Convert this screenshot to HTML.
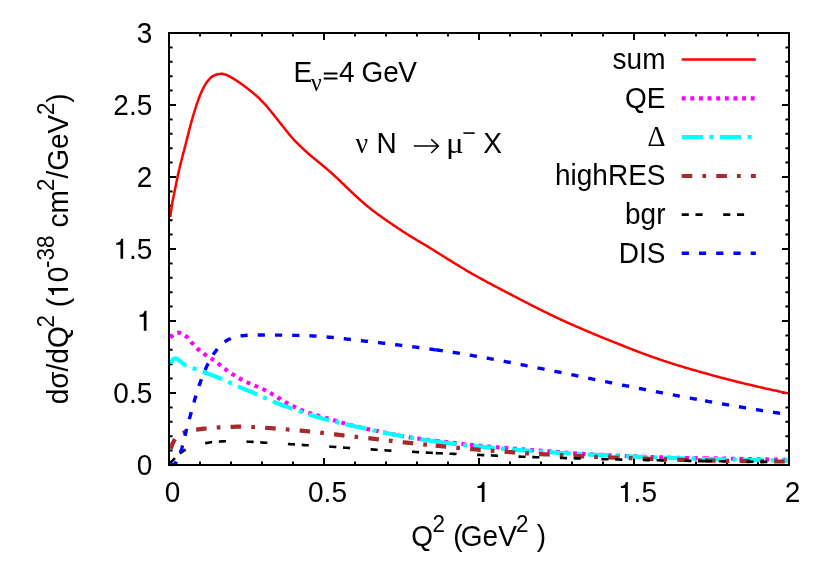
<!DOCTYPE html>
<html><head><meta charset="utf-8"><title>plot</title>
<style>
html,body{margin:0;padding:0;background:#fff;}
svg{display:block;will-change:transform;}
text{font-family:"Liberation Sans",sans-serif;font-size:28px;fill:#000;}
.sy{font-family:"Liberation Serif",serif;}
.s{font-size:22.4px;}
</style></head><body>
<svg width="830" height="581" viewBox="0 0 830 581">
<rect x="0" y="0" width="830" height="581" fill="#fff"/>
<path d="M200.0 465.0 v-3.6 M200.0 33.0 v3.6 M231.0 465.0 v-3.6 M231.0 33.0 v3.6 M262.0 465.0 v-3.6 M262.0 33.0 v3.6 M293.0 465.0 v-3.6 M293.0 33.0 v3.6 M324.0 465.0 v-7 M324.0 33.0 v7 M355.0 465.0 v-3.6 M355.0 33.0 v3.6 M386.0 465.0 v-3.6 M386.0 33.0 v3.6 M417.0 465.0 v-3.6 M417.0 33.0 v3.6 M448.0 465.0 v-3.6 M448.0 33.0 v3.6 M479.0 465.0 v-7 M479.0 33.0 v7 M510.0 465.0 v-3.6 M510.0 33.0 v3.6 M541.0 465.0 v-3.6 M541.0 33.0 v3.6 M572.0 465.0 v-3.6 M572.0 33.0 v3.6 M603.0 465.0 v-3.6 M603.0 33.0 v3.6 M634.0 465.0 v-7 M634.0 33.0 v7 M665.0 465.0 v-3.6 M665.0 33.0 v3.6 M696.0 465.0 v-3.6 M696.0 33.0 v3.6 M727.0 465.0 v-3.6 M727.0 33.0 v3.6 M758.0 465.0 v-3.6 M758.0 33.0 v3.6 M169.0 450.6 h3.6 M789.0 450.6 h-3.6 M169.0 436.2 h3.6 M789.0 436.2 h-3.6 M169.0 421.8 h3.6 M789.0 421.8 h-3.6 M169.0 407.4 h3.6 M789.0 407.4 h-3.6 M169.0 393.0 h7 M789.0 393.0 h-7 M169.0 378.6 h3.6 M789.0 378.6 h-3.6 M169.0 364.2 h3.6 M789.0 364.2 h-3.6 M169.0 349.8 h3.6 M789.0 349.8 h-3.6 M169.0 335.4 h3.6 M789.0 335.4 h-3.6 M169.0 321.0 h7 M789.0 321.0 h-7 M169.0 306.6 h3.6 M789.0 306.6 h-3.6 M169.0 292.2 h3.6 M789.0 292.2 h-3.6 M169.0 277.8 h3.6 M789.0 277.8 h-3.6 M169.0 263.4 h3.6 M789.0 263.4 h-3.6 M169.0 249.0 h7 M789.0 249.0 h-7 M169.0 234.6 h3.6 M789.0 234.6 h-3.6 M169.0 220.2 h3.6 M789.0 220.2 h-3.6 M169.0 205.8 h3.6 M789.0 205.8 h-3.6 M169.0 191.4 h3.6 M789.0 191.4 h-3.6 M169.0 177.0 h7 M789.0 177.0 h-7 M169.0 162.6 h3.6 M789.0 162.6 h-3.6 M169.0 148.2 h3.6 M789.0 148.2 h-3.6 M169.0 133.8 h3.6 M789.0 133.8 h-3.6 M169.0 119.4 h3.6 M789.0 119.4 h-3.6 M169.0 105.0 h7 M789.0 105.0 h-7 M169.0 90.6 h3.6 M789.0 90.6 h-3.6 M169.0 76.2 h3.6 M789.0 76.2 h-3.6 M169.0 61.8 h3.6 M789.0 61.8 h-3.6 M169.0 47.4 h3.6 M789.0 47.4 h-3.6" stroke="#000" stroke-width="2" fill="none"/>
<g clip-path="url(#c)">
<path d="M170.3 217.0 L170.4 216.0 L170.5 215.0 L170.7 214.0 L170.8 213.0 L170.9 212.0 L171.1 211.0 L171.2 210.0 L171.3 209.1 L171.5 208.1 L171.6 207.1 L171.8 206.1 L171.9 205.1 L172.1 204.1 L172.3 203.1 L172.4 202.1 L172.6 201.1 L172.8 200.2 L173.0 199.2 L173.2 198.2 L173.4 197.2 L173.6 196.2 L173.8 195.2 L174.0 194.3 L174.2 193.3 L174.4 192.3 L174.6 191.3 L174.8 190.3 L175.0 189.4 L175.2 188.4 L175.4 187.4 L175.6 186.4 L175.8 185.4 L176.0 184.5 L176.2 183.5 L176.4 182.5 L176.6 181.5 L176.8 180.5 L177.0 179.5 L177.2 178.6 L177.4 177.6 L177.6 176.6 L177.8 175.6 L178.0 174.6 L178.2 173.7 L178.5 172.7 L178.7 171.7 L178.9 170.7 L179.1 169.8 L179.4 168.8 L179.6 167.8 L179.8 166.8 L180.1 165.9 L180.3 164.9 L180.6 163.9 L180.8 162.9 L181.0 162.0 L181.3 161.0 L181.5 160.0 L181.8 159.1 L182.0 158.1 L182.3 157.1 L182.5 156.2 L182.8 155.2 L183.0 154.2 L183.3 153.2 L183.5 152.3 L183.8 151.3 L184.1 150.3 L184.3 149.4 L184.6 148.4 L184.8 147.4 L185.0 146.5 L185.3 145.5 L185.5 144.5 L185.8 143.5 L186.0 142.6 L186.3 141.6 L186.5 140.6 L186.8 139.7 L187.0 138.7 L187.3 137.7 L187.5 136.7 L187.7 135.8 L188.0 134.8 L188.2 133.8 L188.5 132.9 L188.7 131.9 L189.0 130.9 L189.2 129.9 L189.5 129.0 L189.7 128.0 L190.0 127.0 L190.2 126.1 L190.5 125.1 L190.8 124.1 L191.0 123.2 L191.3 122.2 L191.6 121.2 L191.8 120.3 L192.1 119.3 L192.4 118.3 L192.6 117.4 L192.9 116.4 L193.2 115.5 L193.5 114.5 L193.8 113.5 L194.1 112.6 L194.4 111.6 L194.7 110.7 L195.0 109.7 L195.3 108.8 L195.6 107.8 L195.9 106.9 L196.2 105.9 L196.5 104.9 L196.8 104.0 L197.2 103.0 L197.5 102.1 L197.8 101.1 L198.2 100.2 L198.5 99.3 L198.8 98.3 L199.2 97.4 L199.6 96.5 L199.9 95.5 L200.3 94.6 L200.7 93.7 L201.1 92.7 L201.5 91.8 L201.9 90.9 L202.3 90.0 L202.8 89.1 L203.2 88.2 L203.7 87.3 L204.1 86.4 L204.6 85.6 L205.2 84.7 L205.7 83.8 L206.3 83.0 L206.8 82.2 L207.4 81.4 L208.1 80.6 L208.7 79.9 L209.4 79.1 L210.1 78.4 L210.8 77.6 L211.6 77.0 L212.4 76.4 L213.2 75.9 L214.1 75.5 L215.0 75.1 L216.0 74.8 L217.0 74.5 L218.0 74.2 L219.0 74.0 L219.9 73.9 L220.9 73.8 L221.9 73.8 L222.9 74.0 L223.9 74.2 L224.9 74.4 L225.9 74.7 L226.8 75.1 L227.7 75.5 L228.6 76.0 L229.5 76.4 L230.4 76.9 L231.2 77.4 L232.1 77.9 L233.0 78.4 L233.8 78.9 L234.7 79.4 L235.5 80.0 L236.4 80.5 L237.2 81.1 L238.0 81.6 L238.9 82.2 L239.7 82.7 L240.5 83.3 L241.3 83.9 L242.2 84.5 L243.0 85.1 L243.8 85.7 L244.6 86.3 L245.4 86.9 L246.2 87.5 L247.0 88.1 L247.7 88.7 L248.5 89.3 L249.3 90.0 L250.1 90.6 L250.9 91.2 L251.7 91.8 L252.5 92.5 L253.2 93.1 L254.0 93.7 L254.8 94.4 L255.5 95.0 L256.3 95.7 L257.0 96.4 L257.8 97.0 L258.5 97.7 L259.2 98.4 L259.9 99.1 L260.6 99.8 L261.3 100.5 L262.0 101.3 L262.7 102.0 L263.4 102.7 L264.1 103.4 L264.8 104.2 L265.5 104.9 L266.1 105.7 L266.8 106.4 L267.5 107.2 L268.1 107.9 L268.8 108.7 L269.4 109.5 L270.0 110.2 L270.7 111.0 L271.3 111.8 L271.9 112.6 L272.6 113.4 L273.2 114.1 L273.8 114.9 L274.4 115.7 L275.0 116.5 L275.7 117.3 L276.3 118.1 L276.9 118.9 L277.5 119.6 L278.2 120.4 L278.8 121.2 L279.4 122.0 L280.0 122.8 L280.6 123.6 L281.3 124.4 L281.9 125.1 L282.5 125.9 L283.1 126.7 L283.8 127.5 L284.4 128.3 L285.0 129.1 L285.6 129.8 L286.2 130.6 L286.9 131.4 L287.5 132.2 L288.1 133.0 L288.7 133.8 L289.4 134.5 L290.0 135.3 L290.7 136.1 L291.3 136.8 L292.0 137.6 L292.7 138.3 L293.3 139.1 L294.0 139.8 L294.7 140.6 L295.4 141.3 L296.1 142.0 L296.8 142.7 L297.5 143.4 L298.2 144.1 L298.9 144.8 L299.6 145.5 L300.3 146.2 L301.1 146.9 L301.8 147.6 L302.5 148.3 L303.3 149.0 L304.0 149.6 L304.7 150.3 L305.5 151.0 L306.2 151.7 L307.0 152.3 L307.7 153.0 L308.5 153.7 L309.2 154.3 L310.0 155.0 L310.7 155.7 L311.5 156.3 L312.2 157.0 L313.0 157.6 L313.8 158.2 L314.6 158.9 L315.4 159.5 L316.1 160.1 L316.9 160.7 L317.7 161.4 L318.5 162.0 L319.3 162.6 L320.0 163.3 L320.8 163.9 L321.6 164.5 L322.3 165.2 L323.1 165.8 L323.9 166.5 L324.6 167.1 L325.4 167.8 L326.2 168.4 L326.9 169.1 L327.7 169.7 L328.5 170.4 L329.2 171.0 L330.0 171.7 L330.7 172.3 L331.5 173.0 L332.2 173.7 L333.0 174.3 L333.7 175.0 L334.4 175.7 L335.2 176.4 L335.9 177.1 L336.6 177.7 L337.4 178.4 L338.1 179.1 L338.8 179.8 L339.6 180.5 L340.3 181.2 L341.0 181.9 L341.7 182.6 L342.5 183.3 L343.2 184.0 L343.9 184.7 L344.6 185.4 L345.3 186.1 L346.0 186.8 L346.8 187.5 L347.5 188.1 L348.2 188.8 L348.9 189.5 L349.6 190.2 L350.4 190.9 L351.1 191.6 L351.8 192.3 L352.6 193.0 L353.3 193.7 L354.0 194.4 L354.8 195.0 L355.5 195.7 L356.2 196.4 L357.0 197.1 L357.7 197.7 L358.5 198.4 L359.2 199.1 L359.9 199.8 L360.7 200.4 L361.4 201.1 L362.2 201.7 L363.0 202.4 L363.7 203.1 L364.5 203.7 L365.2 204.4 L366.0 205.0 L366.8 205.7 L367.5 206.3 L368.3 206.9 L369.1 207.6 L369.9 208.2 L370.6 208.8 L371.4 209.5 L372.2 210.1 L373.0 210.7 L373.8 211.3 L374.6 211.9 L375.4 212.5 L376.2 213.1 L377.0 213.7 L377.8 214.3 L378.6 214.9 L379.5 215.4 L380.3 216.0 L381.1 216.6 L381.9 217.2 L382.7 217.8 L383.5 218.3 L384.4 218.9 L385.2 219.5 L386.0 220.1 L386.8 220.6 L387.6 221.2 L388.5 221.8 L389.3 222.3 L390.1 222.9 L391.0 223.5 L391.8 224.0 L392.6 224.6 L393.4 225.1 L394.3 225.7 L395.1 226.3 L395.9 226.8 L396.8 227.4 L397.6 227.9 L398.4 228.5 L399.3 229.0 L400.1 229.6 L400.9 230.2 L401.8 230.7 L402.6 231.3 L403.5 231.8 L404.3 232.3 L405.1 232.9 L406.0 233.4 L406.8 234.0 L407.7 234.5 L408.5 235.0 L409.4 235.6 L410.2 236.1 L411.1 236.6 L411.9 237.1 L412.8 237.7 L413.6 238.2 L414.5 238.7 L415.4 239.2 L416.2 239.7 L417.1 240.3 L417.9 240.8 L418.8 241.3 L419.7 241.8 L420.5 242.3 L421.4 242.8 L422.3 243.3 L423.1 243.8 L424.0 244.3 L424.9 244.8 L425.7 245.3 L426.6 245.9 L427.4 246.4 L428.3 246.9 L429.1 247.4 L430.0 247.9 L430.8 248.5 L431.7 249.0 L432.5 249.5 L433.4 250.0 L434.2 250.6 L435.1 251.1 L435.9 251.6 L436.8 252.2 L437.6 252.7 L438.5 253.2 L439.3 253.8 L440.2 254.3 L441.0 254.8 L441.9 255.4 L442.7 255.9 L443.6 256.4 L444.4 257.0 L445.3 257.5 L446.1 258.0 L447.0 258.6 L447.8 259.1 L448.7 259.6 L449.5 260.2 L450.4 260.7 L451.2 261.2 L452.1 261.7 L452.9 262.3 L453.8 262.8 L454.6 263.3 L455.5 263.8 L456.3 264.4 L457.2 264.9 L458.1 265.4 L458.9 265.9 L459.8 266.5 L460.6 267.0 L461.5 267.5 L462.3 268.0 L463.2 268.5 L464.1 269.0 L464.9 269.5 L465.8 270.1 L466.6 270.6 L467.5 271.1 L468.4 271.6 L469.2 272.1 L470.1 272.6 L471.0 273.1 L471.8 273.6 L472.7 274.1 L473.6 274.6 L474.5 275.1 L475.3 275.5 L476.2 276.0 L477.1 276.5 L478.0 277.0 L478.8 277.5 L479.7 278.0 L480.6 278.5 L481.5 278.9 L482.3 279.4 L483.2 279.9 L484.1 280.4 L485.0 280.9 L485.9 281.3 L486.7 281.8 L487.6 282.3 L488.5 282.8 L489.4 283.2 L490.3 283.7 L491.2 284.2 L492.0 284.7 L492.9 285.1 L493.8 285.6 L494.7 286.1 L495.6 286.5 L496.5 287.0 L497.4 287.5 L498.2 287.9 L499.1 288.4 L500.0 288.9 L500.9 289.3 L501.8 289.8 L502.7 290.3 L503.6 290.7 L504.5 291.2 L505.3 291.6 L506.2 292.1 L507.1 292.6 L508.0 293.0 L508.9 293.5 L509.8 294.0 L510.7 294.4 L511.6 294.9 L512.4 295.4 L513.3 295.8 L514.2 296.3 L515.1 296.7 L516.0 297.2 L516.9 297.7 L517.8 298.1 L518.7 298.6 L519.6 299.1 L520.4 299.5 L521.3 300.0 L522.2 300.4 L523.1 300.9 L524.0 301.4 L524.9 301.8 L525.8 302.3 L526.7 302.7 L527.6 303.2 L528.5 303.6 L529.4 304.1 L530.2 304.6 L531.1 305.0 L532.0 305.5 L532.9 305.9 L533.8 306.4 L534.7 306.8 L535.6 307.3 L536.5 307.7 L537.4 308.2 L538.3 308.6 L539.2 309.1 L540.1 309.5 L541.0 310.0 L541.9 310.4 L542.8 310.9 L543.7 311.3 L544.6 311.8 L545.5 312.2 L546.4 312.6 L547.3 313.1 L548.2 313.5 L549.1 314.0 L550.0 314.4 L550.9 314.8 L551.8 315.3 L552.7 315.7 L553.6 316.1 L554.5 316.6 L555.4 317.0 L556.3 317.4 L557.2 317.9 L558.1 318.3 L559.0 318.7 L559.9 319.1 L560.8 319.6 L561.7 320.0 L562.6 320.4 L563.6 320.8 L564.5 321.2 L565.4 321.6 L566.3 322.1 L567.2 322.5 L568.1 322.9 L569.0 323.3 L569.9 323.7 L570.9 324.1 L571.8 324.5 L572.7 324.9 L573.6 325.3 L574.5 325.7 L575.4 326.1 L576.4 326.5 L577.3 326.9 L578.2 327.3 L579.1 327.7 L580.0 328.1 L581.0 328.5 L581.9 328.9 L582.8 329.3 L583.7 329.7 L584.6 330.1 L585.6 330.5 L586.5 330.9 L587.4 331.3 L588.3 331.7 L589.3 332.0 L590.2 332.4 L591.1 332.8 L592.0 333.2 L593.0 333.6 L593.9 334.0 L594.8 334.4 L595.7 334.8 L596.7 335.1 L597.6 335.5 L598.5 335.9 L599.4 336.3 L600.4 336.7 L601.3 337.0 L602.2 337.4 L603.1 337.8 L604.1 338.2 L605.0 338.6 L605.9 338.9 L606.9 339.3 L607.8 339.7 L608.7 340.1 L609.6 340.4 L610.6 340.8 L611.5 341.2 L612.4 341.6 L613.4 341.9 L614.3 342.3 L615.2 342.7 L616.1 343.0 L617.1 343.4 L618.0 343.8 L618.9 344.1 L619.9 344.5 L620.8 344.9 L621.7 345.3 L622.7 345.6 L623.6 346.0 L624.5 346.4 L625.5 346.7 L626.4 347.1 L627.3 347.5 L628.3 347.8 L629.2 348.2 L630.1 348.6 L631.1 348.9 L632.0 349.3 L632.9 349.7 L633.9 350.0 L634.8 350.4 L635.7 350.8 L636.7 351.1 L637.6 351.5 L638.5 351.8 L639.5 352.2 L640.4 352.5 L641.3 352.9 L642.3 353.2 L643.2 353.6 L644.2 353.9 L645.1 354.3 L646.0 354.6 L647.0 355.0 L647.9 355.3 L648.9 355.6 L649.8 356.0 L650.8 356.3 L651.7 356.7 L652.6 357.0 L653.6 357.3 L654.5 357.6 L655.5 358.0 L656.4 358.3 L657.4 358.6 L658.3 359.0 L659.3 359.3 L660.2 359.6 L661.2 359.9 L662.1 360.2 L663.1 360.6 L664.0 360.9 L665.0 361.2 L665.9 361.5 L666.9 361.8 L667.8 362.1 L668.8 362.4 L669.7 362.8 L670.7 363.1 L671.6 363.4 L672.6 363.7 L673.5 364.0 L674.5 364.3 L675.5 364.6 L676.4 364.9 L677.4 365.2 L678.3 365.5 L679.3 365.8 L680.2 366.0 L681.2 366.3 L682.2 366.6 L683.1 366.9 L684.1 367.2 L685.0 367.5 L686.0 367.8 L687.0 368.1 L687.9 368.3 L688.9 368.6 L689.8 368.9 L690.8 369.2 L691.8 369.5 L692.7 369.7 L693.7 370.0 L694.7 370.3 L695.6 370.6 L696.6 370.8 L697.5 371.1 L698.5 371.4 L699.5 371.7 L700.4 371.9 L701.4 372.2 L702.4 372.5 L703.3 372.7 L704.3 373.0 L705.3 373.3 L706.2 373.6 L707.2 373.8 L708.2 374.1 L709.1 374.4 L710.1 374.6 L711.1 374.9 L712.0 375.2 L713.0 375.4 L714.0 375.7 L714.9 375.9 L715.9 376.2 L716.9 376.5 L717.8 376.7 L718.8 377.0 L719.8 377.3 L720.7 377.5 L721.7 377.8 L722.7 378.0 L723.6 378.3 L724.6 378.5 L725.6 378.8 L726.5 379.0 L727.5 379.3 L728.5 379.5 L729.4 379.8 L730.4 380.0 L731.4 380.3 L732.4 380.5 L733.3 380.8 L734.3 381.0 L735.3 381.3 L736.2 381.5 L737.2 381.7 L738.2 382.0 L739.2 382.2 L740.1 382.5 L741.1 382.7 L742.1 382.9 L743.1 383.2 L744.0 383.4 L745.0 383.7 L746.0 383.9 L746.9 384.1 L747.9 384.4 L748.9 384.6 L749.9 384.8 L750.8 385.1 L751.8 385.3 L752.8 385.5 L753.8 385.8 L754.7 386.0 L755.7 386.2 L756.7 386.4 L757.7 386.7 L758.6 386.9 L759.6 387.1 L760.6 387.4 L761.6 387.6 L762.6 387.8 L763.5 388.0 L764.5 388.2 L765.5 388.5 L766.5 388.7 L767.4 388.9 L768.4 389.1 L769.4 389.3 L770.4 389.5 L771.4 389.8 L772.3 390.0 L773.3 390.2 L774.3 390.4 L775.3 390.6 L776.3 390.8 L777.2 391.0 L778.2 391.2 L779.2 391.4 L780.2 391.6 L781.2 391.9 L782.1 392.1 L783.1 392.3 L784.1 392.5 L785.1 392.7 L786.1 392.9 L787.0 393.1 L788.0 393.3 L789.0 393.5" fill="none" stroke="#ff0000" stroke-width="2.5" stroke-linejoin="round" stroke-linecap="butt"/>
<path d="M170.2 337.6 L170.9 336.9 L171.6 336.2 L172.4 335.5 L173.1 334.8 L173.9 334.1 L174.7 333.6 L175.6 333.3 L176.6 333.0 L177.6 332.8 L178.6 332.7 L179.6 332.8 L180.6 333.1 L181.5 333.5 L182.4 334.0 L183.3 334.4 L184.2 334.9 L185.0 335.5 L185.8 336.1 L186.6 336.7 L187.3 337.4 L188.0 338.1 L188.6 338.9 L189.3 339.6 L189.9 340.4 L190.6 341.2 L191.2 342.0 L191.9 342.8 L192.6 343.5 L193.2 344.2 L193.9 345.0 L194.6 345.7 L195.3 346.4 L196.0 347.2 L196.7 347.9 L197.4 348.6 L198.1 349.3 L198.9 349.9 L199.7 350.6 L200.4 351.2 L201.2 351.8 L202.0 352.4 L202.8 353.0 L203.6 353.6 L204.5 354.2 L205.3 354.8 L206.1 355.3 L206.9 355.9 L207.8 356.4 L208.6 357.0 L209.5 357.5 L210.3 358.0 L211.2 358.6 L212.0 359.1 L212.8 359.7 L213.6 360.3 L214.5 360.9 L215.3 361.5 L216.1 362.1 L216.9 362.7 L217.7 363.3 L218.5 363.9 L219.3 364.5 L220.1 365.1 L220.9 365.7 L221.6 366.3 L222.4 367.0 L223.2 367.6 L224.0 368.2 L224.8 368.8 L225.6 369.4 L226.4 370.0 L227.2 370.6 L228.0 371.2 L228.8 371.7 L229.7 372.3 L230.5 372.9 L231.4 373.4 L232.2 374.0 L233.0 374.5 L233.9 375.0 L234.7 375.6 L235.6 376.1 L236.4 376.6 L237.3 377.1 L238.2 377.6 L239.0 378.1 L239.9 378.6 L240.8 379.1 L241.7 379.6 L242.6 380.1 L243.4 380.5 L244.3 381.0 L245.2 381.4 L246.1 381.9 L247.0 382.3 L247.9 382.7 L248.9 383.1 L249.8 383.5 L250.7 383.9 L251.6 384.3 L252.5 384.7 L253.5 385.1 L254.4 385.5 L255.3 385.9 L256.2 386.3 L257.2 386.7 L258.1 387.1 L259.0 387.5 L259.9 387.8 L260.9 388.2 L261.8 388.6 L262.7 389.0 L263.6 389.5 L264.5 389.9 L265.4 390.3 L266.3 390.8 L267.2 391.3 L268.1 391.7 L268.9 392.2 L269.8 392.7 L270.7 393.2 L271.6 393.7 L272.4 394.2 L273.3 394.7 L274.1 395.2 L275.0 395.8 L275.8 396.3 L276.7 396.8 L277.5 397.4 L278.4 397.9 L279.2 398.4 L280.1 398.9 L280.9 399.5 L281.8 400.0 L282.6 400.5 L283.5 401.1 L284.4 401.6 L285.2 402.1 L286.1 402.6 L287.0 403.1 L287.8 403.6 L288.7 404.0 L289.6 404.5 L290.5 405.0 L291.4 405.4 L292.3 405.9 L293.2 406.3 L294.1 406.8 L295.0 407.2 L295.9 407.6 L296.8 408.1 L297.7 408.5 L298.6 408.9 L299.5 409.3 L300.5 409.7 L301.4 410.1 L302.3 410.5 L303.2 410.8 L304.2 411.2 L305.1 411.6 L306.1 411.9 L307.0 412.2 L307.9 412.6 L308.9 412.9 L309.8 413.2 L310.8 413.5 L311.7 413.8 L312.7 414.1 L313.7 414.4 L314.6 414.7 L315.6 415.0 L316.5 415.3 L317.5 415.5 L318.5 415.8 L319.4 416.1 L320.4 416.4 L321.4 416.6 L322.3 416.9 L323.3 417.2 L324.3 417.4 L325.2 417.7 L326.2 418.0 L327.2 418.3 L328.1 418.6 L329.1 418.8 L330.0 419.1 L331.0 419.4 L332.0 419.7 L332.9 420.0 L333.9 420.3 L334.8 420.5 L335.8 420.8 L336.8 421.1 L337.7 421.4 L338.7 421.7 L339.7 421.9 L340.6 422.2 L341.6 422.5 L342.5 422.8 L343.5 423.1 L344.5 423.4 L345.4 423.7 L346.4 423.9 L347.4 424.2 L348.3 424.5 L349.3 424.7 L350.3 425.0 L351.2 425.2 L352.2 425.5 L353.2 425.7 L354.1 426.0 L355.1 426.2 L356.1 426.4 L357.1 426.7 L358.0 426.9 L359.0 427.1 L360.0 427.3 L361.0 427.6 L362.0 427.8 L362.9 428.0 L363.9 428.2 L364.9 428.4 L365.9 428.6 L366.8 428.9 L367.8 429.1 L368.8 429.3 L369.8 429.5 L370.8 429.7 L371.7 429.9 L372.7 430.1 L373.7 430.3 L374.7 430.5 L375.7 430.7 L376.6 430.9 L377.6 431.1 L378.6 431.3 L379.6 431.6 L380.6 431.8 L381.6 432.0 L382.5 432.2 L383.5 432.4 L384.5 432.6 L385.5 432.8 L386.5 433.0 L387.4 433.2 L388.4 433.4 L389.4 433.6 L390.4 433.8 L391.4 434.0 L392.4 434.2 L393.3 434.4 L394.3 434.6 L395.3 434.8 L396.3 434.9 L397.3 435.1 L398.3 435.3 L399.2 435.5 L400.2 435.7 L401.2 435.9 L402.2 436.1 L403.2 436.2 L404.2 436.4 L405.2 436.6 L406.1 436.8 L407.1 436.9 L408.1 437.1 L409.1 437.3 L410.1 437.4 L411.1 437.6 L412.1 437.8 L413.1 437.9 L414.1 438.1 L415.0 438.2 L416.0 438.4 L417.0 438.5 L418.0 438.6 L419.0 438.8 L420.0 438.9 L421.0 439.1 L422.0 439.2 L423.0 439.3 L424.0 439.4 L425.0 439.6 L426.0 439.7 L427.0 439.8 L428.0 439.9 L429.0 440.0 L430.0 440.2 L430.9 440.3 L431.9 440.4 L432.9 440.5 L433.9 440.6 L434.9 440.7 L435.7 440.8" fill="none" stroke="#ff00ff" stroke-width="4.1" stroke-linejoin="round" stroke-linecap="butt" stroke-dasharray="3.9 4.73"/>
<path d="M435.7 440.8 L435.9 440.9 L436.9 441.0 L437.9 441.1 L438.9 441.2 L439.9 441.3 L440.9 441.4 L441.9 441.5 L442.9 441.7 L443.9 441.8 L444.9 441.9 L445.9 442.0 L446.9 442.1 L447.9 442.2 L448.9 442.4 L449.9 442.5 L450.9 442.6 L451.8 442.7 L452.8 442.8 L453.8 443.0 L454.8 443.1 L455.8 443.2 L456.8 443.3 L457.8 443.4 L458.8 443.6 L459.8 443.7 L460.8 443.8 L461.8 443.9 L462.8 444.0 L463.8 444.1 L464.8 444.2 L465.8 444.3 L466.8 444.4 L467.8 444.6 L468.8 444.7 L469.8 444.8 L470.8 444.9 L471.8 445.0 L472.8 445.1 L473.8 445.2 L474.8 445.3 L475.8 445.4 L476.8 445.5 L477.8 445.5 L478.8 445.6 L479.7 445.7 L480.7 445.8 L481.7 445.9 L482.7 446.0 L483.7 446.1 L484.7 446.2 L485.7 446.3 L486.7 446.4 L487.7 446.5 L488.7 446.6 L489.7 446.6 L490.7 446.7 L491.7 446.8 L492.7 446.9 L493.7 447.0 L494.7 447.1 L495.7 447.2 L496.7 447.3 L497.7 447.3 L498.7 447.4 L499.7 447.5 L500.7 447.6 L501.7 447.7 L502.7 447.8 L503.7 447.9 L504.7 447.9 L505.7 448.0 L506.7 448.1 L507.7 448.2 L508.7 448.3 L509.7 448.4 L510.7 448.4 L511.7 448.5 L512.7 448.6 L513.7 448.7 L514.7 448.8 L515.7 448.9 L516.7 448.9 L517.7 449.0 L518.7 449.1 L519.7 449.2 L520.7 449.2 L521.7 449.3 L522.7 449.4 L523.7 449.5 L524.7 449.6 L525.7 449.6 L526.7 449.7 L527.7 449.8 L528.7 449.9 L529.7 449.9 L530.7 450.0 L531.7 450.1 L532.7 450.1 L533.7 450.2 L534.7 450.3 L535.7 450.4 L536.7 450.4 L537.7 450.5 L538.7 450.6 L539.7 450.6 L540.7 450.7 L541.7 450.8 L542.7 450.8 L543.7 450.9 L544.7 451.0 L545.7 451.1 L546.7 451.1 L547.7 451.2 L548.7 451.3 L549.7 451.4 L550.7 451.4 L551.7 451.5 L552.7 451.6 L553.7 451.7 L554.7 451.7 L555.7 451.8 L556.7 451.9 L557.7 452.0 L558.7 452.1 L559.7 452.1 L560.7 452.2 L561.7 452.3 L562.7 452.4 L563.7 452.5 L564.7 452.6 L565.7 452.6 L566.7 452.7 L567.7 452.8 L568.7 452.9 L569.7 453.0 L570.7 453.1 L571.7 453.1 L572.7 453.2 L573.7 453.3 L574.7 453.4 L575.6 453.4 L576.6 453.5 L577.6 453.6 L578.6 453.6 L579.6 453.7 L580.6 453.8 L581.6 453.8 L582.6 453.9 L583.7 454.0 L584.7 454.0 L585.7 454.1 L586.7 454.1 L587.7 454.2 L588.7 454.2 L589.7 454.3 L590.7 454.3 L591.7 454.4 L592.7 454.4 L593.7 454.5 L594.7 454.5 L595.7 454.6 L596.7 454.6 L597.7 454.7 L598.7 454.7 L599.7 454.8 L600.7 454.8 L601.7 454.9 L602.7 454.9 L603.7 455.0 L604.7 455.0 L605.7 455.0 L606.7 455.1 L607.7 455.1 L608.7 455.2 L609.7 455.2 L610.7 455.3 L611.7 455.3 L612.7 455.4 L613.7 455.4 L614.7 455.5 L615.7 455.5 L616.7 455.6 L617.7 455.6 L618.7 455.6 L619.7 455.7 L620.7 455.7 L621.7 455.8 L622.7 455.8 L623.7 455.9 L624.7 455.9 L625.7 456.0 L626.7 456.0 L627.7 456.0 L628.7 456.1 L629.7 456.1 L630.7 456.2 L631.7 456.2 L632.7 456.2 L633.7 456.3 L634.7 456.3 L635.7 456.4 L636.7 456.4 L637.7 456.5 L638.7 456.5 L639.7 456.5 L640.7 456.6 L641.7 456.6 L642.7 456.7 L643.7 456.7 L644.7 456.7 L645.7 456.8 L646.7 456.8 L647.7 456.8 L648.7 456.9 L649.7 456.9 L650.7 457.0 L651.7 457.0 L652.7 457.0 L653.7 457.1 L654.7 457.1 L655.7 457.1 L656.7 457.2 L657.7 457.2 L658.7 457.3 L659.7 457.3 L660.7 457.3 L661.7 457.4 L662.7 457.4 L663.8 457.4 L664.8 457.5 L665.8 457.5 L666.8 457.6 L667.8 457.6 L668.8 457.6 L669.8 457.7 L670.8 457.7 L671.8 457.7 L672.8 457.8 L673.8 457.8 L674.8 457.8 L675.8 457.9 L676.8 457.9 L677.8 457.9 L678.8 457.9 L679.8 458.0 L680.8 458.0 L681.8 458.0 L682.8 458.0 L683.8 458.0 L684.8 458.1 L685.8 458.1 L686.8 458.1 L687.8 458.1 L688.8 458.1 L689.8 458.1 L690.8 458.1 L691.8 458.1 L692.8 458.1 L693.8 458.1 L694.8 458.1 L695.8 458.1 L696.8 458.1 L697.8 458.1 L698.8 458.2 L699.8 458.2 L700.8 458.2 L701.8 458.2 L702.8 458.2 L703.8 458.2 L704.8 458.2 L705.0 458.2" fill="none" stroke="#ff00ff" stroke-width="4.1" stroke-linejoin="round" stroke-linecap="butt" stroke-dasharray="3.9 4.73"/>
<path d="M705.0 458.2 L705.8 458.2 L706.8 458.2 L707.8 458.2 L708.8 458.2 L709.8 458.2 L710.8 458.3 L711.8 458.3 L712.8 458.3 L713.8 458.3 L714.9 458.3 L715.9 458.4 L716.9 458.4 L717.9 458.4 L718.9 458.4 L719.9 458.4 L720.9 458.5 L721.9 458.5 L722.9 458.5 L723.9 458.5 L724.9 458.6 L725.9 458.6 L726.9 458.6 L727.9 458.6 L728.9 458.7 L729.9 458.7 L730.9 458.7 L731.9 458.7 L732.9 458.8 L733.9 458.8 L734.9 458.8 L735.9 458.8 L736.9 458.9 L737.9 458.9 L738.9 458.9 L739.9 458.9 L740.9 458.9 L741.9 459.0 L742.9 459.0 L743.9 459.0 L744.9 459.0 L745.9 459.0 L746.9 459.1 L747.9 459.1 L748.9 459.1 L749.9 459.1 L750.9 459.1 L751.9 459.2 L752.9 459.2 L753.9 459.2 L754.9 459.2 L755.9 459.2 L756.9 459.3 L757.9 459.3 L758.9 459.3 L759.9 459.3 L760.9 459.3 L761.9 459.4 L762.9 459.4 L763.9 459.4 L765.0 459.4 L766.0 459.4 L767.0 459.4 L768.0 459.5 L769.0 459.5 L770.0 459.5 L771.0 459.5 L772.0 459.5 L773.0 459.5 L774.0 459.6 L775.0 459.6 L776.0 459.6 L777.0 459.6 L778.0 459.6 L779.0 459.6 L780.0 459.7 L781.0 459.7 L782.0 459.7 L783.0 459.7 L784.0 459.7 L785.0 459.7 L786.0 459.8 L787.0 459.8 L788.0 459.8 L789.0 459.8" fill="none" stroke="#ff00ff" stroke-width="4.1" stroke-linejoin="round" stroke-linecap="butt" stroke-dasharray="3.9 4.73"/>
<path d="M170.5 363.6 L170.9 362.7 L171.4 361.8 L171.9 360.9 L172.4 360.0 L173.1 359.3 L174.0 358.8 L175.0 358.5 L175.9 358.4 L176.8 358.7 L177.7 359.3 L178.5 360.0 L179.4 360.6 L180.2 361.2 L181.0 361.8 L181.7 362.5 L182.5 363.2 L183.3 363.8 L184.0 364.5 L184.8 365.0 L185.7 365.5 L186.6 365.9 L187.5 366.3 L188.4 366.7 L189.3 367.0 L190.3 367.3 L191.3 367.7 L192.2 368.0 L193.2 368.3 L194.2 368.6 L195.1 368.9 L196.1 369.3 L197.0 369.6 L197.9 369.9 L198.9 370.3 L199.8 370.6 L200.8 370.9 L201.7 371.3 L202.7 371.6 L203.6 372.0 L204.5 372.3 L205.5 372.7 L206.4 373.0 L207.4 373.4 L208.3 373.7 L209.2 374.1 L210.2 374.4 L211.1 374.8 L212.0 375.2 L213.0 375.5 L213.9 375.9 L214.8 376.3 L215.8 376.7 L216.7 377.0 L217.6 377.4 L218.5 377.8 L219.5 378.2 L220.4 378.6 L221.3 378.9 L222.3 379.3 L223.2 379.7 L224.1 380.1 L225.0 380.5 L225.9 380.9 L226.8 381.3 L227.8 381.7 L228.7 382.1 L229.6 382.5 L230.5 383.0 L231.4 383.4 L232.3 383.8 L233.2 384.2 L234.2 384.6 L235.1 385.0 L236.0 385.5 L236.9 385.9 L237.8 386.3 L238.7 386.7 L239.6 387.1 L240.6 387.5 L241.5 387.9 L242.4 388.3 L243.3 388.7 L244.3 389.0 L245.2 389.4 L246.1 389.8 L247.0 390.2 L248.0 390.6 L248.9 391.0 L249.8 391.4 L250.7 391.8 L251.6 392.1 L252.6 392.5 L253.5 392.9 L254.4 393.3 L255.3 393.7 L256.3 394.1 L257.2 394.5 L258.1 394.9 L259.0 395.3 L259.9 395.7 L260.8 396.1 L261.8 396.6 L262.7 397.0 L263.6 397.4 L264.5 397.8 L265.4 398.2 L266.3 398.6 L267.2 399.0 L268.2 399.4 L269.1 399.8 L270.0 400.2 L270.9 400.6 L271.8 401.0 L272.8 401.4 L273.7 401.8 L274.6 402.2 L275.5 402.5 L276.5 402.9 L277.4 403.3 L278.3 403.6 L279.3 404.0 L280.2 404.4 L281.2 404.7 L282.1 405.1 L283.0 405.4 L284.0 405.7 L284.9 406.1 L285.9 406.4 L286.8 406.8 L287.7 407.1 L288.7 407.5 L289.6 407.8 L290.6 408.1 L291.5 408.5 L292.5 408.8 L293.4 409.2 L294.3 409.5 L295.3 409.8 L296.2 410.2 L297.2 410.5 L298.1 410.8 L299.1 411.1 L300.0 411.5 L301.0 411.8 L301.9 412.1 L302.9 412.4 L303.8 412.8 L304.8 413.1 L305.7 413.4 L306.7 413.7 L307.6 414.1 L308.6 414.4 L309.5 414.7 L310.5 415.0 L311.4 415.3 L312.4 415.6 L313.4 415.9 L314.3 416.2 L315.3 416.4 L316.2 416.7 L317.2 417.0 L318.2 417.3 L319.1 417.6 L320.1 417.9 L321.0 418.1 L322.0 418.4 L323.0 418.7 L323.9 419.0 L324.9 419.2 L325.9 419.5 L326.8 419.7 L327.8 420.0 L328.8 420.3 L329.7 420.5 L330.7 420.7 L331.7 421.0 L332.7 421.2 L333.6 421.4 L334.6 421.7 L335.6 421.9 L336.6 422.1 L337.5 422.4 L338.5 422.6 L339.5 422.8 L340.5 423.0 L341.5 423.3 L342.4 423.5 L343.4 423.7 L344.4 424.0 L345.4 424.2 L346.3 424.4 L347.3 424.6 L348.3 424.8 L349.3 425.1 L350.2 425.3 L351.2 425.5 L352.2 425.7 L353.2 425.9 L354.2 426.2 L355.1 426.4 L356.1 426.6 L357.1 426.8 L358.1 427.0 L359.0 427.3 L360.0 427.5 L361.0 427.7 L362.0 427.9 L363.0 428.1 L363.9 428.3 L364.9 428.6 L365.9 428.8 L366.9 429.0 L367.9 429.2 L368.8 429.4 L369.8 429.6 L370.8 429.8 L371.8 430.0 L372.8 430.3 L373.7 430.5 L374.7 430.7 L375.7 430.9 L376.7 431.1 L377.7 431.3 L378.6 431.5 L379.6 431.7 L380.6 431.9 L381.6 432.1 L382.6 432.3 L383.5 432.5 L384.5 432.7 L385.5 432.9 L386.5 433.1 L387.5 433.3 L388.5 433.5 L389.4 433.7 L390.4 433.9 L391.4 434.1 L392.4 434.3 L393.4 434.5 L394.4 434.7 L395.3 434.9 L396.3 435.1 L397.3 435.2 L398.3 435.4 L399.3 435.6 L400.3 435.8 L401.3 436.0 L402.2 436.2 L403.2 436.3 L404.2 436.5 L405.2 436.7 L406.2 436.9 L407.2 437.1 L408.2 437.2 L409.1 437.4 L410.1 437.6 L411.1 437.8 L412.1 437.9 L413.1 438.1 L414.1 438.3 L415.1 438.4 L416.1 438.6 L417.0 438.8 L418.0 438.9 L419.0 439.1 L420.0 439.2 L421.0 439.4 L422.0 439.5 L423.0 439.7 L424.0 439.8 L425.0 440.0 L426.0 440.1 L427.0 440.3 L427.9 440.4 L428.9 440.6 L429.9 440.7 L430.9 440.9 L431.9 441.0 L432.9 441.1 L433.9 441.3 L434.9 441.4 L435.7 441.5" fill="none" stroke="#00ffff" stroke-width="4.2" stroke-linejoin="round" stroke-linecap="butt" stroke-dasharray="21.1 6.5 4.1 6.5"/>
<path d="M435.7 441.5 L435.9 441.6 L436.9 441.7 L437.9 441.8 L438.9 442.0 L439.9 442.1 L440.8 442.2 L441.8 442.4 L442.8 442.5 L443.8 442.6 L444.8 442.8 L445.8 442.9 L446.8 443.0 L447.8 443.1 L448.8 443.3 L449.8 443.4 L450.8 443.5 L451.8 443.6 L452.8 443.8 L453.8 443.9 L454.8 444.0 L455.8 444.1 L456.8 444.2 L457.8 444.3 L458.8 444.5 L459.7 444.6 L460.7 444.7 L461.7 444.8 L462.7 444.9 L463.7 445.0 L464.7 445.1 L465.7 445.2 L466.7 445.4 L467.7 445.5 L468.7 445.6 L469.7 445.7 L470.7 445.8 L471.7 445.9 L472.7 446.0 L473.7 446.1 L474.7 446.2 L475.7 446.3 L476.7 446.4 L477.7 446.5 L478.7 446.5 L479.7 446.6 L480.7 446.7 L481.7 446.8 L482.7 446.9 L483.7 447.0 L484.7 447.1 L485.7 447.2 L486.7 447.3 L487.7 447.4 L488.7 447.4 L489.7 447.5 L490.7 447.6 L491.7 447.7 L492.7 447.8 L493.7 447.9 L494.7 448.0 L495.7 448.1 L496.7 448.1 L497.7 448.2 L498.7 448.3 L499.7 448.4 L500.7 448.5 L501.7 448.6 L502.7 448.7 L503.7 448.8 L504.6 448.8 L505.6 448.9 L506.6 449.0 L507.6 449.1 L508.6 449.2 L509.6 449.3 L510.6 449.3 L511.6 449.4 L512.6 449.5 L513.6 449.6 L514.6 449.7 L515.6 449.8 L516.6 449.8 L517.6 449.9 L518.6 450.0 L519.6 450.1 L520.6 450.1 L521.6 450.2 L522.6 450.3 L523.6 450.4 L524.6 450.5 L525.6 450.5 L526.6 450.6 L527.6 450.7 L528.6 450.8 L529.6 450.8 L530.6 450.9 L531.6 451.0 L532.6 451.0 L533.6 451.1 L534.6 451.2 L535.6 451.3 L536.6 451.3 L537.6 451.4 L538.6 451.5 L539.6 451.6 L540.6 451.6 L541.6 451.7 L542.6 451.8 L543.6 451.8 L544.6 451.9 L545.6 452.0 L546.6 452.0 L547.6 452.1 L548.6 452.2 L549.6 452.2 L550.6 452.3 L551.6 452.4 L552.6 452.4 L553.6 452.5 L554.6 452.6 L555.6 452.6 L556.6 452.7 L557.6 452.8 L558.6 452.8 L559.6 452.9 L560.6 452.9 L561.6 453.0 L562.6 453.1 L563.6 453.1 L564.6 453.2 L565.6 453.2 L566.6 453.3 L567.6 453.4 L568.6 453.4 L569.6 453.5 L570.6 453.5 L571.6 453.6 L572.6 453.6 L573.6 453.7 L574.6 453.8 L575.6 453.8 L576.6 453.9 L577.6 453.9 L578.6 454.0 L579.6 454.0 L580.6 454.1 L581.6 454.1 L582.6 454.2 L583.6 454.3 L584.6 454.3 L585.6 454.4 L586.6 454.4 L587.6 454.5 L588.6 454.5 L589.6 454.6 L590.6 454.6 L591.6 454.7 L592.7 454.7 L593.7 454.8 L594.7 454.8 L595.7 454.9 L596.7 454.9 L597.7 455.0 L598.7 455.0 L599.7 455.1 L600.7 455.1 L601.7 455.2 L602.7 455.2 L603.7 455.2 L604.7 455.3 L605.7 455.3 L606.7 455.4 L607.7 455.4 L608.7 455.5 L609.7 455.5 L610.7 455.6 L611.7 455.6 L612.7 455.7 L613.7 455.7 L614.7 455.8 L615.7 455.8 L616.7 455.9 L617.7 455.9 L618.7 455.9 L619.7 456.0 L620.7 456.0 L621.7 456.1 L622.7 456.1 L623.7 456.2 L624.7 456.2 L625.7 456.3 L626.7 456.3 L627.7 456.3 L628.7 456.4 L629.7 456.4 L630.7 456.5 L631.7 456.5 L632.7 456.5 L633.7 456.6 L634.7 456.6 L635.7 456.7 L636.7 456.7 L637.7 456.8 L638.7 456.8 L639.7 456.8 L640.7 456.9 L641.7 456.9 L642.7 456.9 L643.7 457.0 L644.7 457.0 L645.7 457.1 L646.7 457.1 L647.7 457.1 L648.7 457.2 L649.7 457.2 L650.7 457.3 L651.7 457.3 L652.7 457.3 L653.7 457.4 L654.7 457.4 L655.7 457.4 L656.7 457.5 L657.7 457.5 L658.7 457.6 L659.7 457.6 L660.7 457.6 L661.7 457.7 L662.7 457.7 L663.7 457.7 L664.8 457.8 L665.8 457.8 L666.8 457.8 L667.8 457.9 L668.8 457.9 L669.8 457.9 L670.8 458.0 L671.8 458.0 L672.8 458.0 L673.8 458.1 L674.8 458.1 L675.8 458.1 L676.8 458.2 L677.8 458.2 L678.8 458.2 L679.8 458.3 L680.8 458.3 L681.8 458.3 L682.8 458.4 L683.8 458.4 L684.8 458.4 L685.8 458.5 L686.8 458.5 L687.8 458.5 L688.8 458.5 L689.8 458.6 L690.8 458.6 L691.8 458.6 L692.8 458.7 L693.8 458.7 L694.8 458.7 L695.8 458.7 L696.8 458.8 L697.8 458.8 L698.8 458.8 L699.8 458.9 L700.8 458.9 L701.8 458.9 L702.8 458.9 L703.8 459.0 L704.8 459.0 L705.0 459.0" fill="none" stroke="#00ffff" stroke-width="4.2" stroke-linejoin="round" stroke-linecap="butt" stroke-dasharray="21.1 6.5 4.1 6.5"/>
<path d="M705.0 459.0 L705.8 459.0 L706.8 459.0 L707.8 459.1 L708.8 459.1 L709.8 459.1 L710.8 459.1 L711.8 459.2 L712.8 459.2 L713.8 459.2 L714.8 459.2 L715.8 459.3 L716.8 459.3 L717.9 459.3 L718.9 459.3 L719.9 459.4 L720.9 459.4 L721.9 459.4 L722.9 459.4 L723.9 459.5 L724.9 459.5 L725.9 459.5 L726.9 459.5 L727.9 459.6 L728.9 459.6 L729.9 459.6 L730.9 459.6 L731.9 459.6 L732.9 459.7 L733.9 459.7 L734.9 459.7 L735.9 459.7 L736.9 459.8 L737.9 459.8 L738.9 459.8 L739.9 459.8 L740.9 459.8 L741.9 459.9 L742.9 459.9 L743.9 459.9 L744.9 459.9 L745.9 459.9 L746.9 460.0 L747.9 460.0 L748.9 460.0 L749.9 460.0 L750.9 460.0 L751.9 460.1 L752.9 460.1 L753.9 460.1 L754.9 460.1 L755.9 460.1 L756.9 460.2 L757.9 460.2 L758.9 460.2 L759.9 460.2 L760.9 460.2 L761.9 460.3 L762.9 460.3 L763.9 460.3 L764.9 460.3 L766.0 460.3 L767.0 460.3 L768.0 460.4 L769.0 460.4 L770.0 460.4 L771.0 460.4 L772.0 460.4 L773.0 460.4 L774.0 460.5 L775.0 460.5 L776.0 460.5 L777.0 460.5 L778.0 460.5 L779.0 460.5 L780.0 460.6 L781.0 460.6 L782.0 460.6 L783.0 460.6 L784.0 460.6 L785.0 460.6 L786.0 460.7 L787.0 460.7 L788.0 460.7 L789.0 460.7" fill="none" stroke="#00ffff" stroke-width="4.2" stroke-linejoin="round" stroke-linecap="butt" stroke-dasharray="21.1 6.5 4.1 6.5"/>
<path d="M170.9 448.9 L171.2 447.9 L171.4 447.0 L171.8 446.0 L172.1 445.1 L172.4 444.1 L172.8 443.2 L173.2 442.3 L173.7 441.4 L174.1 440.5 L174.7 439.6 L175.2 438.8 L175.8 438.0 L176.5 437.2 L177.2 436.5 L177.9 435.8 L178.7 435.2 L179.5 434.6 L180.4 434.1 L181.3 433.6 L182.2 433.2 L183.1 432.8 L184.0 432.4 L185.0 432.1 L185.9 431.8 L186.9 431.5 L187.9 431.2 L188.8 431.0 L189.8 430.7 L190.8 430.5 L191.8 430.3 L192.8 430.2 L193.8 430.0 L194.8 429.8 L195.8 429.7 L196.7 429.6 L197.7 429.4 L198.7 429.3 L199.7 429.2 L200.7 429.1 L201.7 428.9 L202.7 428.8 L203.7 428.7 L204.7 428.6 L205.7 428.5 L206.7 428.4 L207.7 428.3 L208.7 428.2 L209.7 428.1 L210.7 428.1 L211.7 428.0 L212.7 427.9 L213.7 427.8 L214.7 427.7 L215.7 427.6 L216.7 427.6 L217.7 427.5 L218.7 427.4 L219.7 427.4 L220.7 427.3 L221.7 427.3 L222.7 427.2 L223.7 427.1 L224.7 427.1 L225.7 427.0 L226.7 427.0 L227.7 426.9 L228.7 426.9 L229.7 426.9 L230.7 426.8 L231.7 426.8 L232.7 426.8 L233.7 426.8 L234.7 426.8 L235.7 426.7 L236.8 426.7 L237.8 426.7 L238.8 426.7 L239.8 426.7 L240.8 426.7 L241.8 426.7 L242.8 426.7 L243.8 426.7 L244.8 426.7 L245.8 426.7 L246.8 426.8 L247.8 426.8 L248.8 426.8 L249.8 426.9 L250.8 426.9 L251.8 427.0 L252.8 427.0 L253.8 427.0 L254.8 427.1 L255.8 427.1 L256.8 427.2 L257.8 427.3 L258.8 427.3 L259.8 427.4 L260.8 427.4 L261.8 427.5 L262.8 427.6 L263.8 427.6 L264.8 427.7 L265.8 427.8 L266.8 427.9 L267.8 427.9 L268.8 428.0 L269.8 428.1 L270.8 428.2 L271.8 428.2 L272.8 428.3 L273.8 428.4 L274.8 428.5 L275.8 428.6 L276.8 428.6 L277.8 428.7 L278.8 428.8 L279.8 428.9 L280.8 428.9 L281.8 429.0 L282.8 429.1 L283.8 429.2 L284.8 429.2 L285.8 429.3 L286.8 429.4 L287.8 429.5 L288.8 429.6 L289.8 429.6 L290.8 429.7 L291.8 429.8 L292.8 429.9 L293.8 430.0 L294.8 430.1 L295.8 430.2 L296.8 430.3 L297.8 430.3 L298.8 430.4 L299.8 430.5 L300.8 430.6 L301.8 430.7 L302.8 430.8 L303.8 430.9 L304.8 431.0 L305.8 431.1 L306.8 431.2 L307.8 431.3 L308.8 431.4 L309.8 431.5 L310.8 431.6 L311.8 431.7 L312.8 431.8 L313.8 431.9 L314.8 432.0 L315.8 432.1 L316.8 432.2 L317.8 432.3 L318.8 432.4 L319.8 432.5 L320.8 432.7 L321.8 432.8 L322.8 432.9 L323.8 433.0 L324.8 433.1 L325.7 433.2 L326.7 433.3 L327.7 433.5 L328.7 433.6 L329.7 433.7 L330.7 433.8 L331.7 434.0 L332.7 434.1 L333.7 434.2 L334.7 434.3 L335.7 434.4 L336.7 434.6 L337.7 434.7 L338.7 434.8 L339.7 434.9 L340.7 435.1 L341.7 435.2 L342.7 435.3 L343.7 435.4 L344.7 435.5 L345.7 435.6 L346.7 435.8 L347.7 435.9 L348.7 436.0 L349.7 436.1 L350.6 436.2 L351.6 436.3 L352.6 436.4 L353.6 436.5 L354.6 436.6 L355.6 436.8 L356.6 436.9 L357.6 437.0 L358.6 437.1 L359.6 437.2 L360.6 437.3 L361.6 437.4 L362.6 437.5 L363.6 437.6 L364.6 437.8 L365.6 437.9 L366.6 438.0 L367.6 438.1 L368.6 438.2 L369.6 438.3 L370.6 438.4 L371.6 438.6 L372.6 438.7 L373.6 438.8 L374.6 438.9 L375.6 439.0 L376.6 439.2 L377.6 439.3 L378.6 439.4 L379.5 439.5 L380.5 439.6 L381.5 439.8 L382.5 439.9 L383.5 440.0 L384.5 440.1 L385.5 440.2 L386.5 440.3 L387.5 440.5 L388.5 440.6 L389.5 440.7 L390.5 440.8 L391.5 440.9 L392.5 441.0 L393.5 441.2 L394.5 441.3 L395.5 441.4 L396.5 441.5 L397.5 441.6 L398.5 441.7 L399.5 441.8 L400.5 441.9 L401.5 442.1 L402.5 442.2 L403.5 442.3 L404.5 442.4 L405.5 442.5 L406.5 442.6 L407.5 442.7 L408.5 442.8 L409.4 442.9 L410.4 443.0 L411.4 443.1 L412.4 443.2 L413.4 443.3 L414.4 443.5 L415.4 443.6 L416.4 443.7 L417.4 443.8 L418.4 443.9 L419.4 444.0 L420.4 444.1 L421.4 444.2 L422.4 444.3 L423.4 444.4 L424.4 444.5 L425.4 444.6 L426.4 444.7 L427.4 444.8 L428.4 444.9 L429.4 445.0 L430.4 445.1 L431.4 445.2 L432.4 445.3 L433.4 445.4 L434.4 445.5 L435.4 445.6 L435.7 445.6" fill="none" stroke="#a52a2a" stroke-width="4.2" stroke-linejoin="round" stroke-linecap="butt" stroke-dasharray="10.6 10.1 3.7 10.2"/>
<path d="M435.7 445.6 L436.4 445.7 L437.4 445.8 L438.4 445.9 L439.4 446.0 L440.4 446.1 L441.4 446.2 L442.4 446.3 L443.4 446.4 L444.4 446.5 L445.4 446.6 L446.4 446.7 L447.4 446.8 L448.4 446.9 L449.4 447.0 L450.4 447.1 L451.4 447.2 L452.4 447.3 L453.4 447.4 L454.4 447.5 L455.4 447.6 L456.4 447.7 L457.4 447.8 L458.4 447.8 L459.4 447.9 L460.4 448.0 L461.4 448.1 L462.3 448.2 L463.3 448.3 L464.3 448.4 L465.3 448.5 L466.3 448.6 L467.3 448.7 L468.3 448.8 L469.3 448.9 L470.3 449.0 L471.3 449.1 L472.3 449.1 L473.3 449.2 L474.3 449.3 L475.3 449.4 L476.3 449.5 L477.3 449.6 L478.3 449.7 L479.3 449.8 L480.3 449.9 L481.3 449.9 L482.3 450.0 L483.3 450.1 L484.3 450.2 L485.3 450.3 L486.3 450.4 L487.3 450.4 L488.3 450.5 L489.3 450.6 L490.3 450.7 L491.3 450.7 L492.3 450.8 L493.3 450.9 L494.3 451.0 L495.3 451.1 L496.3 451.1 L497.3 451.2 L498.3 451.3 L499.3 451.3 L500.3 451.4 L501.3 451.5 L502.3 451.6 L503.3 451.6 L504.3 451.7 L505.3 451.8 L506.3 451.9 L507.3 451.9 L508.3 452.0 L509.3 452.1 L510.3 452.2 L511.3 452.2 L512.3 452.3 L513.3 452.4 L514.3 452.5 L515.3 452.5 L516.3 452.6 L517.3 452.7 L518.3 452.7 L519.3 452.8 L520.3 452.9 L521.3 452.9 L522.3 453.0 L523.3 453.1 L524.3 453.1 L525.3 453.2 L526.3 453.3 L527.3 453.3 L528.4 453.4 L529.4 453.4 L530.4 453.5 L531.4 453.6 L532.4 453.6 L533.4 453.7 L534.4 453.7 L535.4 453.8 L536.4 453.9 L537.4 453.9 L538.4 454.0 L539.4 454.0 L540.4 454.1 L541.4 454.1 L542.4 454.2 L543.4 454.3 L544.4 454.3 L545.4 454.4 L546.4 454.4 L547.4 454.5 L548.4 454.5 L549.4 454.6 L550.4 454.6 L551.4 454.7 L552.4 454.7 L553.4 454.8 L554.4 454.9 L555.4 454.9 L556.4 455.0 L557.4 455.0 L558.4 455.1 L559.4 455.1 L560.4 455.2 L561.4 455.2 L562.4 455.3 L563.4 455.3 L564.4 455.4 L565.4 455.4 L566.4 455.5 L567.4 455.6 L568.4 455.6 L569.4 455.7 L570.4 455.7 L571.4 455.8 L572.4 455.8 L573.4 455.9 L574.4 455.9 L575.4 456.0 L576.4 456.0 L577.4 456.1 L578.4 456.1 L579.4 456.2 L580.4 456.2 L581.4 456.3 L582.4 456.3 L583.4 456.4 L584.4 456.4 L585.4 456.5 L586.4 456.5 L587.4 456.6 L588.5 456.6 L589.5 456.6 L590.5 456.7 L591.5 456.7 L592.5 456.8 L593.5 456.8 L594.5 456.9 L595.5 456.9 L596.5 456.9 L597.5 457.0 L598.5 457.0 L599.5 457.1 L600.5 457.1 L601.5 457.1 L602.5 457.2 L603.5 457.2 L604.5 457.3 L605.5 457.3 L606.5 457.3 L607.5 457.4 L608.5 457.4 L609.5 457.5 L610.5 457.5 L611.5 457.5 L612.5 457.6 L613.5 457.6 L614.5 457.7 L615.5 457.7 L616.5 457.7 L617.5 457.8 L618.5 457.8 L619.5 457.8 L620.5 457.9 L621.5 457.9 L622.5 457.9 L623.5 458.0 L624.5 458.0 L625.5 458.0 L626.5 458.1 L627.5 458.1 L628.5 458.1 L629.5 458.2 L630.6 458.2 L631.6 458.2 L632.6 458.3 L633.6 458.3 L634.6 458.3 L635.6 458.4 L636.6 458.4 L637.6 458.4 L638.6 458.5 L639.6 458.5 L640.6 458.5 L641.6 458.6 L642.6 458.6 L643.6 458.6 L644.6 458.6 L645.6 458.7 L646.6 458.7 L647.6 458.7 L648.6 458.8 L649.6 458.8 L650.6 458.8 L651.6 458.9 L652.6 458.9 L653.6 458.9 L654.6 459.0 L655.6 459.0 L656.6 459.0 L657.6 459.1 L658.6 459.1 L659.6 459.1 L660.6 459.2 L661.6 459.2 L662.6 459.2 L663.6 459.3 L664.6 459.3 L665.6 459.3 L666.6 459.4 L667.6 459.4 L668.6 459.4 L669.7 459.5 L670.7 459.5 L671.7 459.5 L672.7 459.6 L673.7 459.6 L674.7 459.6 L675.7 459.7 L676.7 459.7 L677.7 459.7 L678.7 459.7 L679.7 459.8 L680.7 459.8 L681.7 459.8 L682.7 459.9 L683.7 459.9 L684.7 459.9 L685.7 460.0 L686.7 460.0 L687.7 460.0 L688.7 460.0 L689.7 460.1 L690.7 460.1 L691.7 460.1 L692.7 460.1 L693.7 460.2 L694.7 460.2 L695.7 460.2 L696.7 460.2 L697.7 460.3 L698.7 460.3 L699.7 460.3 L700.7 460.3 L701.7 460.4 L702.7 460.4 L703.7 460.4 L704.7 460.4 L705.0 460.4" fill="none" stroke="#a52a2a" stroke-width="4.2" stroke-linejoin="round" stroke-linecap="butt" stroke-dasharray="10.6 10.1 3.7 10.2"/>
<path d="M705.0 460.4 L705.8 460.4 L706.8 460.4 L707.8 460.5 L708.8 460.5 L709.8 460.5 L710.8 460.5 L711.8 460.5 L712.8 460.6 L713.8 460.6 L714.8 460.6 L715.8 460.6 L716.8 460.6 L717.8 460.6 L718.8 460.7 L719.8 460.7 L720.8 460.7 L721.8 460.7 L722.8 460.7 L723.8 460.7 L724.8 460.8 L725.8 460.8 L726.8 460.8 L727.8 460.8 L728.8 460.8 L729.8 460.8 L730.8 460.8 L731.8 460.9 L732.8 460.9 L733.8 460.9 L734.8 460.9 L735.8 460.9 L736.8 460.9 L737.8 460.9 L738.8 461.0 L739.9 461.0 L740.9 461.0 L741.9 461.0 L742.9 461.0 L743.9 461.0 L744.9 461.0 L745.9 461.1 L746.9 461.1 L747.9 461.1 L748.9 461.1 L749.9 461.1 L750.9 461.1 L751.9 461.1 L752.9 461.2 L753.9 461.2 L754.9 461.2 L755.9 461.2 L756.9 461.2 L757.9 461.2 L758.9 461.2 L759.9 461.2 L760.9 461.3 L761.9 461.3 L762.9 461.3 L763.9 461.3 L764.9 461.3 L765.9 461.3 L766.9 461.3 L767.9 461.3 L768.9 461.4 L769.9 461.4 L770.9 461.4 L771.9 461.4 L773.0 461.4 L774.0 461.4 L775.0 461.4 L776.0 461.4 L777.0 461.4 L778.0 461.5 L779.0 461.5 L780.0 461.5 L781.0 461.5 L782.0 461.5 L783.0 461.5 L784.0 461.5 L785.0 461.5 L786.0 461.6 L787.0 461.6 L788.0 461.6 L789.0 461.6" fill="none" stroke="#a52a2a" stroke-width="4.2" stroke-linejoin="round" stroke-linecap="butt" stroke-dasharray="10.6 10.1 3.7 10.2"/>
<path d="M170.0 463.2 L170.7 462.5 L171.4 461.7 L172.1 461.0 L172.8 460.3 L173.5 459.6 L174.2 458.9 L174.9 458.2 L175.6 457.5 L176.3 456.8 L177.1 456.1 L177.8 455.4 L178.5 454.7 L179.3 454.0 L180.0 453.4 L180.8 452.8 L181.6 452.2 L182.5 451.6 L183.3 451.0 L184.1 450.5 L185.0 450.0 L185.9 449.5 L186.8 449.0 L187.7 448.6 L188.6 448.1 L189.5 447.7 L190.4 447.3 L191.3 446.8 L192.2 446.5 L193.2 446.1 L194.1 445.8 L195.1 445.5 L196.0 445.2 L197.0 444.9 L198.0 444.7 L198.9 444.4 L199.9 444.2 L200.9 444.0 L201.9 443.8 L202.9 443.6 L203.9 443.4 L204.8 443.2 L205.8 443.1 L206.8 442.9 L207.8 442.7 L208.8 442.6 L209.8 442.4 L210.8 442.3 L211.8 442.2 L212.8 442.1 L213.8 442.0 L214.8 441.9 L215.8 441.8 L216.8 441.7 L217.8 441.7 L218.8 441.6 L219.8 441.5 L220.8 441.5 L221.8 441.4 L222.8 441.4 L223.8 441.3 L224.8 441.3 L225.8 441.3 L226.8 441.3 L227.8 441.3 L228.8 441.3 L229.8 441.3 L230.8 441.3 L231.8 441.3 L232.8 441.3 L233.8 441.3 L234.8 441.3 L235.8 441.3 L236.8 441.3 L237.8 441.3 L238.8 441.3 L239.8 441.3 L240.8 441.4 L241.8 441.4 L242.9 441.5 L243.9 441.5 L244.9 441.5 L245.9 441.6 L246.9 441.6 L247.9 441.7 L248.9 441.7 L249.9 441.8 L250.9 441.8 L251.9 441.9 L252.9 441.9 L253.9 442.0 L254.9 442.0 L255.9 442.1 L256.9 442.2 L257.9 442.2 L258.9 442.3 L259.9 442.4 L260.9 442.4 L261.9 442.5 L262.9 442.6 L263.9 442.6 L264.9 442.7 L265.9 442.8 L266.9 442.8 L267.9 442.9 L268.9 443.0 L269.9 443.0 L270.9 443.1 L271.9 443.1 L272.9 443.2 L273.9 443.2 L274.9 443.3 L275.9 443.3 L276.9 443.4 L277.9 443.5 L278.9 443.5 L279.9 443.6 L280.9 443.6 L281.9 443.7 L282.9 443.7 L283.9 443.8 L284.9 443.8 L285.9 443.9 L286.9 444.0 L287.9 444.0 L288.9 444.1 L289.9 444.1 L290.9 444.2 L291.9 444.3 L292.9 444.3 L293.9 444.4 L294.9 444.5 L295.9 444.5 L296.9 444.6 L297.9 444.7 L298.9 444.7 L299.9 444.8 L300.9 444.9 L301.9 444.9 L302.9 445.0 L303.9 445.1 L304.9 445.1 L305.9 445.2 L306.9 445.2 L307.9 445.3 L308.9 445.4 L309.9 445.4 L310.9 445.5 L311.9 445.6 L312.9 445.6 L313.9 445.7 L314.9 445.7 L315.9 445.8 L316.9 445.9 L317.9 445.9 L318.9 446.0 L319.9 446.0 L320.9 446.1 L322.0 446.1 L323.0 446.2 L324.0 446.3 L325.0 446.3 L326.0 446.4 L327.0 446.4 L328.0 446.5 L329.0 446.6 L330.0 446.6 L331.0 446.7 L332.0 446.8 L333.0 446.8 L334.0 446.9 L335.0 447.0 L336.0 447.0 L337.0 447.1 L338.0 447.2 L339.0 447.2 L340.0 447.3 L341.0 447.4 L342.0 447.5 L343.0 447.5 L344.0 447.6 L345.0 447.7 L346.0 447.7 L347.0 447.8 L348.0 447.9 L349.0 448.0 L350.0 448.0 L351.0 448.1 L352.0 448.2 L353.0 448.2 L354.0 448.3 L355.0 448.3 L356.0 448.4 L357.0 448.5 L358.0 448.5 L359.0 448.6 L360.0 448.7 L361.0 448.7 L362.0 448.8 L363.0 448.9 L364.0 448.9 L365.0 449.0 L366.0 449.0 L367.0 449.1 L368.0 449.2 L369.0 449.2 L370.0 449.3 L371.0 449.4 L372.0 449.4 L373.0 449.5 L374.0 449.6 L375.0 449.6 L376.0 449.7 L377.0 449.8 L378.0 449.8 L379.0 449.9 L380.0 450.0 L381.0 450.0 L382.0 450.1 L383.0 450.2 L384.0 450.3 L385.0 450.3 L386.0 450.4 L387.0 450.5 L388.0 450.5 L389.0 450.6 L390.0 450.6 L391.0 450.7 L392.0 450.8 L393.0 450.8 L394.0 450.9 L395.0 450.9 L396.0 451.0 L397.0 451.0 L398.0 451.1 L399.0 451.1 L400.0 451.2 L401.0 451.2 L402.0 451.3 L403.0 451.3 L404.0 451.4 L405.0 451.4 L406.0 451.5 L407.0 451.5 L408.0 451.6 L409.0 451.6 L410.0 451.7 L411.0 451.7 L412.0 451.8 L413.0 451.8 L414.0 451.9 L415.0 452.0 L416.0 452.0 L417.1 452.1 L418.1 452.1 L419.1 452.2 L420.1 452.2 L421.1 452.3 L422.1 452.3 L423.1 452.4 L424.1 452.5 L425.1 452.5 L426.1 452.6 L427.1 452.6 L428.1 452.7 L429.1 452.7 L430.1 452.8 L431.1 452.8 L432.1 452.9 L433.1 452.9 L434.1 453.0 L435.1 453.0 L435.7 453.1" fill="none" stroke="#000000" stroke-width="2.6" stroke-linejoin="round" stroke-linecap="butt" stroke-dasharray="7.1 6.7 7.1 20.6"/>
<path d="M435.7 453.1 L436.1 453.1 L437.1 453.1 L438.1 453.2 L439.1 453.2 L440.1 453.3 L441.1 453.3 L442.1 453.4 L443.1 453.4 L444.1 453.5 L445.1 453.5 L446.1 453.6 L447.1 453.6 L448.1 453.7 L449.1 453.7 L450.1 453.7 L451.1 453.8 L452.1 453.8 L453.1 453.9 L454.1 453.9 L455.1 454.0 L456.1 454.0 L457.1 454.1 L458.1 454.1 L459.1 454.1 L460.1 454.2 L461.1 454.2 L462.1 454.3 L463.1 454.3 L464.1 454.3 L465.1 454.4 L466.1 454.4 L467.1 454.5 L468.1 454.5 L469.1 454.5 L470.1 454.6 L471.2 454.6 L472.2 454.7 L473.2 454.7 L474.2 454.7 L475.2 454.8 L476.2 454.8 L477.2 454.9 L478.2 454.9 L479.2 454.9 L480.2 455.0 L481.2 455.0 L482.2 455.1 L483.2 455.1 L484.2 455.1 L485.2 455.2 L486.2 455.2 L487.2 455.3 L488.2 455.3 L489.2 455.4 L490.2 455.4 L491.2 455.4 L492.2 455.5 L493.2 455.5 L494.2 455.6 L495.2 455.6 L496.2 455.6 L497.2 455.7 L498.2 455.7 L499.2 455.8 L500.2 455.8 L501.2 455.9 L502.2 455.9 L503.2 455.9 L504.2 456.0 L505.2 456.0 L506.2 456.1 L507.2 456.1 L508.2 456.2 L509.2 456.2 L510.2 456.2 L511.2 456.3 L512.2 456.3 L513.2 456.4 L514.2 456.4 L515.2 456.4 L516.2 456.5 L517.3 456.5 L518.3 456.6 L519.3 456.6 L520.3 456.6 L521.3 456.7 L522.3 456.7 L523.3 456.7 L524.3 456.8 L525.3 456.8 L526.3 456.9 L527.3 456.9 L528.3 456.9 L529.3 457.0 L530.3 457.0 L531.3 457.0 L532.3 457.1 L533.3 457.1 L534.3 457.1 L535.3 457.2 L536.3 457.2 L537.3 457.2 L538.3 457.3 L539.3 457.3 L540.3 457.3 L541.3 457.4 L542.3 457.4 L543.3 457.4 L544.3 457.5 L545.3 457.5 L546.3 457.5 L547.3 457.5 L548.3 457.6 L549.3 457.6 L550.3 457.6 L551.3 457.7 L552.3 457.7 L553.3 457.7 L554.3 457.8 L555.3 457.8 L556.3 457.8 L557.3 457.8 L558.4 457.9 L559.4 457.9 L560.4 457.9 L561.4 458.0 L562.4 458.0 L563.4 458.0 L564.4 458.0 L565.4 458.1 L566.4 458.1 L567.4 458.1 L568.4 458.2 L569.4 458.2 L570.4 458.2 L571.4 458.2 L572.4 458.3 L573.4 458.3 L574.4 458.3 L575.4 458.4 L576.4 458.4 L577.4 458.4 L578.4 458.4 L579.4 458.5 L580.4 458.5 L581.4 458.5 L582.4 458.6 L583.4 458.6 L584.4 458.6 L585.4 458.6 L586.4 458.7 L587.4 458.7 L588.4 458.7 L589.4 458.8 L590.4 458.8 L591.4 458.8 L592.4 458.8 L593.4 458.9 L594.4 458.9 L595.4 458.9 L596.5 459.0 L597.5 459.0 L598.5 459.0 L599.5 459.0 L600.5 459.1 L601.5 459.1 L602.5 459.1 L603.5 459.1 L604.5 459.2 L605.5 459.2 L606.5 459.2 L607.5 459.2 L608.5 459.3 L609.5 459.3 L610.5 459.3 L611.5 459.3 L612.5 459.4 L613.5 459.4 L614.5 459.4 L615.5 459.4 L616.5 459.5 L617.5 459.5 L618.5 459.5 L619.5 459.5 L620.5 459.6 L621.5 459.6 L622.5 459.6 L623.5 459.6 L624.5 459.6 L625.5 459.7 L626.5 459.7 L627.5 459.7 L628.5 459.7 L629.5 459.7 L630.5 459.8 L631.5 459.8 L632.5 459.8 L633.6 459.8 L634.6 459.8 L635.6 459.9 L636.6 459.9 L637.6 459.9 L638.6 459.9 L639.6 459.9 L640.6 460.0 L641.6 460.0 L642.6 460.0 L643.6 460.0 L644.6 460.0 L645.6 460.1 L646.6 460.1 L647.6 460.1 L648.6 460.1 L649.6 460.1 L650.6 460.2 L651.6 460.2 L652.6 460.2 L653.6 460.2 L654.6 460.2 L655.6 460.3 L656.6 460.3 L657.6 460.3 L658.6 460.3 L659.6 460.3 L660.6 460.4 L661.6 460.4 L662.6 460.4 L663.6 460.4 L664.6 460.4 L665.6 460.4 L666.6 460.5 L667.6 460.5 L668.7 460.5 L669.7 460.5 L670.7 460.5 L671.7 460.6 L672.7 460.6 L673.7 460.6 L674.7 460.6 L675.7 460.6 L676.7 460.7 L677.7 460.7 L678.7 460.7 L679.7 460.7 L680.7 460.7 L681.7 460.7 L682.7 460.8 L683.7 460.8 L684.7 460.8 L685.7 460.8 L686.7 460.8 L687.7 460.8 L688.7 460.9 L689.7 460.9 L690.7 460.9 L691.7 460.9 L692.7 460.9 L693.7 460.9 L694.7 461.0 L695.7 461.0 L696.7 461.0 L697.7 461.0 L698.7 461.0 L699.7 461.0 L700.7 461.0 L701.7 461.1 L702.7 461.1 L703.8 461.1 L704.8 461.1 L705.0 461.1" fill="none" stroke="#000000" stroke-width="2.6" stroke-linejoin="round" stroke-linecap="butt" stroke-dasharray="7.1 6.7 7.1 20.6"/>
<path d="M705.0 461.1 L705.8 461.1 L706.8 461.1 L707.8 461.2 L708.8 461.2 L709.8 461.2 L710.8 461.2 L711.8 461.2 L712.8 461.2 L713.8 461.2 L714.8 461.3 L715.8 461.3 L716.8 461.3 L717.8 461.3 L718.8 461.3 L719.8 461.3 L720.8 461.3 L721.8 461.3 L722.8 461.4 L723.8 461.4 L724.8 461.4 L725.8 461.4 L726.8 461.4 L727.8 461.4 L728.8 461.4 L729.8 461.5 L730.8 461.5 L731.8 461.5 L732.8 461.5 L733.8 461.5 L734.8 461.5 L735.8 461.5 L736.8 461.5 L737.9 461.6 L738.9 461.6 L739.9 461.6 L740.9 461.6 L741.9 461.6 L742.9 461.6 L743.9 461.6 L744.9 461.6 L745.9 461.7 L746.9 461.7 L747.9 461.7 L748.9 461.7 L749.9 461.7 L750.9 461.7 L751.9 461.7 L752.9 461.7 L753.9 461.8 L754.9 461.8 L755.9 461.8 L756.9 461.8 L757.9 461.8 L758.9 461.8 L759.9 461.8 L760.9 461.8 L761.9 461.9 L762.9 461.9 L763.9 461.9 L764.9 461.9 L765.9 461.9 L766.9 461.9 L767.9 461.9 L768.9 461.9 L769.9 462.0 L770.9 462.0 L772.0 462.0 L773.0 462.0 L774.0 462.0 L775.0 462.0 L776.0 462.0 L777.0 462.0 L778.0 462.1 L779.0 462.1 L780.0 462.1 L781.0 462.1 L782.0 462.1 L783.0 462.1 L784.0 462.1 L785.0 462.1 L786.0 462.2 L787.0 462.2 L788.0 462.2 L789.0 462.2" fill="none" stroke="#000000" stroke-width="2.6" stroke-linejoin="round" stroke-linecap="butt" stroke-dasharray="7.1 6.7 7.1 20.6"/>
<path d="M170.4 464.8 L171.5 464.7 L172.6 464.4 L173.6 464.1 L174.5 463.7 L175.2 463.3 L175.8 462.8 L176.3 462.0 L176.8 461.1 L177.2 460.1 L177.6 459.1 L178.0 458.1 L178.4 457.1 L178.8 456.2 L179.2 455.3 L179.6 454.3 L180.0 453.4 L180.4 452.5 L180.7 451.5 L181.0 450.6 L181.4 449.6 L181.7 448.7 L182.0 447.7 L182.2 446.8 L182.5 445.8 L182.8 444.8 L183.0 443.9 L183.3 442.9 L183.6 441.9 L183.8 441.0 L184.1 440.0 L184.3 439.0 L184.5 438.0 L184.7 437.1 L185.0 436.1 L185.2 435.1 L185.4 434.1 L185.6 433.2 L185.9 432.2 L186.1 431.2 L186.3 430.2 L186.6 429.3 L186.8 428.3 L187.1 427.3 L187.4 426.4 L187.6 425.4 L187.9 424.4 L188.1 423.5 L188.4 422.5 L188.7 421.5 L188.9 420.6 L189.2 419.6 L189.5 418.6 L189.7 417.7 L190.0 416.7 L190.3 415.7 L190.5 414.8 L190.8 413.8 L191.1 412.8 L191.3 411.9 L191.6 410.9 L191.9 409.9 L192.1 409.0 L192.4 408.0 L192.7 407.1 L193.0 406.1 L193.2 405.1 L193.5 404.2 L193.7 403.2 L194.0 402.2 L194.3 401.3 L194.5 400.3 L194.8 399.3 L195.1 398.4 L195.4 397.4 L195.7 396.4 L196.0 395.5 L196.2 394.5 L196.5 393.6 L196.8 392.6 L197.1 391.7 L197.4 390.7 L197.7 389.7 L198.1 388.8 L198.4 387.8 L198.7 386.9 L199.0 385.9 L199.3 385.0 L199.7 384.0 L200.0 383.1 L200.3 382.2 L200.7 381.2 L201.0 380.3 L201.4 379.3 L201.7 378.4 L202.1 377.5 L202.4 376.5 L202.8 375.6 L203.2 374.7 L203.5 373.7 L203.9 372.8 L204.3 371.9 L204.7 371.0 L205.1 370.0 L205.5 369.1 L205.9 368.2 L206.3 367.3 L206.7 366.4 L207.1 365.5 L207.6 364.6 L208.0 363.7 L208.5 362.8 L208.9 361.9 L209.4 361.0 L209.9 360.1 L210.4 359.3 L210.9 358.4 L211.4 357.5 L211.9 356.7 L212.4 355.8 L213.0 355.0 L213.5 354.1 L214.1 353.3 L214.7 352.5 L215.3 351.7 L215.9 350.9 L216.5 350.1 L217.1 349.3 L217.7 348.5 L218.4 347.7 L219.1 347.0 L219.7 346.2 L220.4 345.5 L221.2 344.9 L221.9 344.2 L222.6 343.5 L223.4 342.9 L224.2 342.2 L225.0 341.6 L225.9 341.0 L226.7 340.5 L227.5 340.0 L228.4 339.5 L229.3 339.1 L230.2 338.7 L231.1 338.2 L232.1 337.9 L233.0 337.5 L234.0 337.2 L235.0 336.9 L235.9 336.7 L236.9 336.5 L237.9 336.3 L238.9 336.2 L239.8 336.0 L240.8 335.9 L241.9 335.8 L242.9 335.7 L243.9 335.6 L244.9 335.5 L245.8 335.4 L246.8 335.3 L247.8 335.2 L248.8 335.1 L249.8 335.1 L250.8 335.0 L251.8 335.0 L252.8 335.0 L253.8 335.0 L254.8 335.0 L255.9 335.0 L256.9 335.0 L257.9 335.0 L258.9 335.0 L259.9 335.0 L260.9 335.0 L261.9 335.0 L262.9 335.0 L263.9 335.0 L264.9 335.0 L265.9 335.0 L266.9 335.0 L267.9 335.0 L268.9 335.0 L269.9 335.0 L270.9 335.0 L271.9 335.0 L272.9 335.0 L273.9 335.0 L274.9 335.1 L275.9 335.1 L276.9 335.1 L277.9 335.1 L278.9 335.1 L279.9 335.1 L280.9 335.1 L281.9 335.1 L282.9 335.2 L283.9 335.2 L284.9 335.2 L285.9 335.2 L286.9 335.2 L287.9 335.2 L288.9 335.3 L289.9 335.3 L290.9 335.3 L291.9 335.3 L292.9 335.3 L293.9 335.4 L294.9 335.4 L295.9 335.4 L296.9 335.4 L297.9 335.4 L298.9 335.5 L299.9 335.5 L300.9 335.5 L301.9 335.6 L302.9 335.6 L303.9 335.6 L304.9 335.7 L305.9 335.7 L306.9 335.7 L307.9 335.8 L308.9 335.8 L309.9 335.8 L310.9 335.9 L311.9 335.9 L312.9 336.0 L313.9 336.0 L314.9 336.1 L315.9 336.1 L316.9 336.2 L317.9 336.3 L318.9 336.3 L319.9 336.4 L320.9 336.5 L321.9 336.6 L322.9 336.6 L323.9 336.7 L324.9 336.8 L325.9 336.9 L326.9 337.0 L327.9 337.1 L328.9 337.2 L329.9 337.2 L330.9 337.3 L331.9 337.4 L332.9 337.5 L333.9 337.6 L334.9 337.7 L335.9 337.8 L336.9 337.9 L337.9 338.0 L338.9 338.2 L339.9 338.3 L340.9 338.4 L341.9 338.5 L342.9 338.6 L343.9 338.7 L344.9 338.8 L345.9 338.9 L346.8 339.1 L347.8 339.2 L348.8 339.3 L349.8 339.4 L350.8 339.5 L351.8 339.6 L352.8 339.7 L353.8 339.8 L354.8 340.0 L355.8 340.1 L356.8 340.2 L357.8 340.3 L358.8 340.4 L359.8 340.5 L360.8 340.7 L361.8 340.8 L362.8 340.9 L363.8 341.0 L364.8 341.1 L365.8 341.2 L366.8 341.3 L367.7 341.4 L368.7 341.6 L369.7 341.7 L370.7 341.8 L371.7 341.9 L372.7 342.0 L373.7 342.1 L374.7 342.2 L375.7 342.3 L376.7 342.4 L377.7 342.5 L378.7 342.6 L379.7 342.8 L380.7 342.9 L381.7 343.0 L382.7 343.1 L383.7 343.2 L384.7 343.3 L385.7 343.4 L386.7 343.6 L387.7 343.7 L388.7 343.8 L389.6 343.9 L390.6 344.0 L391.6 344.2 L392.6 344.3 L393.6 344.4 L394.6 344.5 L395.6 344.7 L396.6 344.8 L397.6 344.9 L398.6 345.0 L399.6 345.1 L400.6 345.3 L401.6 345.4 L402.6 345.5 L403.6 345.6 L404.6 345.7 L405.6 345.9 L406.6 346.0 L407.5 346.1 L408.5 346.2 L409.5 346.4 L410.5 346.5 L411.5 346.6 L412.5 346.7 L413.5 346.9 L414.5 347.0 L415.5 347.1 L416.5 347.2 L417.5 347.4 L418.5 347.5 L419.5 347.6 L420.5 347.7 L421.5 347.9 L422.4 348.0 L423.4 348.1 L424.4 348.3 L425.4 348.4 L426.4 348.5 L427.4 348.7 L428.4 348.8 L429.4 348.9 L430.4 349.1 L431.4 349.2 L432.4 349.3 L433.4 349.5 L434.4 349.6 L435.4 349.8 L435.7 349.8" fill="none" stroke="#0000ff" stroke-width="3.4" stroke-linejoin="round" stroke-linecap="butt" stroke-dasharray="7.2 10.05"/>
<path d="M435.7 349.8 L436.3 349.9 L437.3 350.0 L438.3 350.2 L439.3 350.3 L440.3 350.4 L441.3 350.6 L442.3 350.7 L443.3 350.9 L444.3 351.0 L445.3 351.1 L446.3 351.3 L447.3 351.4 L448.2 351.6 L449.2 351.7 L450.2 351.9 L451.2 352.0 L452.2 352.2 L453.2 352.3 L454.2 352.5 L455.2 352.6 L456.2 352.8 L457.2 352.9 L458.2 353.1 L459.1 353.2 L460.1 353.4 L461.1 353.6 L462.1 353.7 L463.1 353.9 L464.1 354.1 L465.1 354.2 L466.1 354.4 L467.0 354.6 L468.0 354.8 L469.0 354.9 L470.0 355.1 L471.0 355.3 L472.0 355.4 L473.0 355.6 L473.9 355.8 L474.9 356.0 L475.9 356.1 L476.9 356.3 L477.9 356.5 L478.9 356.7 L479.9 356.8 L480.9 357.0 L481.8 357.2 L482.8 357.4 L483.8 357.5 L484.8 357.7 L485.8 357.9 L486.8 358.1 L487.8 358.2 L488.7 358.4 L489.7 358.6 L490.7 358.8 L491.7 359.0 L492.7 359.1 L493.7 359.3 L494.7 359.5 L495.6 359.7 L496.6 359.9 L497.6 360.1 L498.6 360.3 L499.6 360.5 L500.6 360.6 L501.5 360.8 L502.5 361.0 L503.5 361.2 L504.5 361.4 L505.5 361.6 L506.5 361.8 L507.4 362.0 L508.4 362.2 L509.4 362.3 L510.4 362.5 L511.4 362.7 L512.4 362.9 L513.3 363.1 L514.3 363.3 L515.3 363.5 L516.3 363.7 L517.3 363.8 L518.3 364.0 L519.2 364.2 L520.2 364.4 L521.2 364.6 L522.2 364.8 L523.2 365.0 L524.2 365.2 L525.1 365.4 L526.1 365.6 L527.1 365.8 L528.1 366.0 L529.1 366.2 L530.1 366.4 L531.0 366.6 L532.0 366.8 L533.0 367.0 L534.0 367.2 L535.0 367.4 L535.9 367.6 L536.9 367.8 L537.9 368.0 L538.9 368.1 L539.9 368.3 L540.9 368.5 L541.8 368.7 L542.8 368.9 L543.8 369.1 L544.8 369.3 L545.8 369.5 L546.8 369.7 L547.7 369.9 L548.7 370.1 L549.7 370.3 L550.7 370.5 L551.7 370.7 L552.6 370.9 L553.6 371.1 L554.6 371.3 L555.6 371.5 L556.6 371.6 L557.6 371.8 L558.5 372.0 L559.5 372.2 L560.5 372.4 L561.5 372.6 L562.5 372.8 L563.5 373.0 L564.4 373.2 L565.4 373.4 L566.4 373.6 L567.4 373.8 L568.4 374.0 L569.3 374.2 L570.3 374.4 L571.3 374.6 L572.3 374.8 L573.3 375.0 L574.3 375.2 L575.2 375.4 L576.2 375.6 L577.2 375.8 L578.2 376.0 L579.2 376.2 L580.1 376.4 L581.1 376.6 L582.1 376.8 L583.1 377.0 L584.1 377.2 L585.0 377.4 L586.0 377.7 L587.0 377.9 L588.0 378.1 L589.0 378.3 L589.9 378.5 L590.9 378.7 L591.9 378.9 L592.9 379.1 L593.9 379.3 L594.9 379.5 L595.8 379.7 L596.8 379.9 L597.8 380.1 L598.8 380.3 L599.8 380.5 L600.7 380.7 L601.7 380.9 L602.7 381.1 L603.7 381.3 L604.7 381.5 L605.6 381.7 L606.6 381.9 L607.6 382.1 L608.6 382.3 L609.6 382.5 L610.6 382.7 L611.5 382.9 L612.5 383.1 L613.5 383.3 L614.5 383.5 L615.5 383.7 L616.4 383.9 L617.4 384.1 L618.4 384.3 L619.4 384.5 L620.4 384.7 L621.4 384.9 L622.3 385.1 L623.3 385.3 L624.3 385.4 L625.3 385.6 L626.3 385.8 L627.3 386.0 L628.2 386.2 L629.2 386.4 L630.2 386.6 L631.2 386.8 L632.2 387.0 L633.1 387.2 L634.1 387.4 L635.1 387.6 L636.1 387.8 L637.1 388.0 L638.1 388.2 L639.0 388.4 L640.0 388.6 L641.0 388.7 L642.0 388.9 L643.0 389.1 L644.0 389.3 L644.9 389.5 L645.9 389.7 L646.9 389.9 L647.9 390.1 L648.9 390.3 L649.9 390.5 L650.8 390.7 L651.8 390.8 L652.8 391.0 L653.8 391.2 L654.8 391.4 L655.8 391.6 L656.7 391.8 L657.7 392.0 L658.7 392.2 L659.7 392.4 L660.7 392.6 L661.7 392.7 L662.6 392.9 L663.6 393.1 L664.6 393.3 L665.6 393.5 L666.6 393.7 L667.6 393.9 L668.6 394.1 L669.5 394.2 L670.5 394.4 L671.5 394.6 L672.5 394.8 L673.5 395.0 L674.5 395.2 L675.4 395.4 L676.4 395.6 L677.4 395.7 L678.4 395.9 L679.4 396.1 L680.4 396.3 L681.3 396.5 L682.3 396.7 L683.3 396.9 L684.3 397.0 L685.3 397.2 L686.3 397.4 L687.3 397.6 L688.2 397.8 L689.2 398.0 L690.2 398.1 L691.2 398.3 L692.2 398.5 L693.2 398.7 L694.1 398.9 L695.1 399.0 L696.1 399.2 L697.1 399.4 L698.1 399.6 L699.1 399.8 L700.1 399.9 L701.0 400.1 L702.0 400.3 L703.0 400.5 L704.0 400.7 L705.0 400.8 L705.0 400.8" fill="none" stroke="#0000ff" stroke-width="3.4" stroke-linejoin="round" stroke-linecap="butt" stroke-dasharray="7.2 10.05"/>
<path d="M705.0 400.8 L706.0 401.0 L707.0 401.2 L707.9 401.4 L708.9 401.6 L709.9 401.7 L710.9 401.9 L711.9 402.1 L712.9 402.3 L713.9 402.4 L714.8 402.6 L715.8 402.8 L716.8 403.0 L717.8 403.1 L718.8 403.3 L719.8 403.5 L720.8 403.7 L721.8 403.8 L722.7 404.0 L723.7 404.2 L724.7 404.4 L725.7 404.5 L726.7 404.7 L727.7 404.9 L728.7 405.0 L729.6 405.2 L730.6 405.4 L731.6 405.5 L732.6 405.7 L733.6 405.9 L734.6 406.0 L735.6 406.2 L736.6 406.4 L737.5 406.5 L738.5 406.7 L739.5 406.9 L740.5 407.0 L741.5 407.2 L742.5 407.4 L743.5 407.5 L744.5 407.7 L745.5 407.9 L746.4 408.0 L747.4 408.2 L748.4 408.3 L749.4 408.5 L750.4 408.7 L751.4 408.8 L752.4 409.0 L753.4 409.1 L754.4 409.3 L755.3 409.5 L756.3 409.6 L757.3 409.8 L758.3 409.9 L759.3 410.1 L760.3 410.3 L761.3 410.4 L762.3 410.6 L763.3 410.7 L764.2 410.9 L765.2 411.0 L766.2 411.2 L767.2 411.3 L768.2 411.5 L769.2 411.7 L770.2 411.8 L771.2 412.0 L772.2 412.1 L773.2 412.3 L774.1 412.4 L775.1 412.6 L776.1 412.7 L777.1 412.9 L778.1 413.0 L779.1 413.2 L780.1 413.3 L781.1 413.5 L782.1 413.6 L783.1 413.8 L784.0 413.9 L785.0 414.1 L786.0 414.2 L787.0 414.4 L788.0 414.5 L789.0 414.7" fill="none" stroke="#0000ff" stroke-width="3.4" stroke-linejoin="round" stroke-linecap="butt" stroke-dasharray="7.2 10.05"/>
</g>
<path d="M681.7 59.6 L755.8 59.6" stroke="#ff0000" stroke-width="2.5" fill="none"/>
<path d="M681.7 98.4 L755.8 98.4" stroke="#ff00ff" stroke-width="4.1" fill="none" stroke-dasharray="3.9 4.73"/>
<path d="M681.7 137.2 L755.8 137.2" stroke="#00ffff" stroke-width="4.2" fill="none" stroke-dasharray="21.1 6.5 4.1 6.5"/>
<path d="M681.7 176.0 L755.8 176.0" stroke="#a52a2a" stroke-width="4.2" fill="none" stroke-dasharray="10.6 10.1 3.7 10.2"/>
<path d="M681.7 214.6 L755.8 214.6" stroke="#000000" stroke-width="2.6" fill="none" stroke-dasharray="7.1 6.7 7.1 20.6"/>
<path d="M681.7 253.3 L755.8 253.3" stroke="#0000ff" stroke-width="3.4" fill="none" stroke-dasharray="7.2 10.05"/>
<rect x="169.0" y="33.0" width="620.0" height="432.0" fill="none" stroke="#000" stroke-width="2"/>
<defs><clipPath id="c"><rect x="169.0" y="28.0" width="621.0" height="438.5"/></clipPath></defs>
<text transform="translate(0 474.7) scale(1 1.045)" x="152.3" y="0" text-anchor="end">0</text>
<text transform="translate(0 402.7) scale(1 1.045)" x="152.3" y="0" text-anchor="end">0.5</text>
<path transform="translate(136.73 330.70)" d="M9.77 0 V-19.85 H7.87 C7.4 -17.8 6.2 -16.1 4.2 -15.9 H2.83 V-13.85 H7.07 V0 Z" fill="#000"/>
<path transform="translate(113.38 258.70)" d="M9.77 0 V-19.85 H7.87 C7.4 -17.8 6.2 -16.1 4.2 -15.9 H2.83 V-13.85 H7.07 V0 Z" fill="#000"/>
<text transform="translate(0 258.7) scale(1 1.045)" x="152.3" y="0" text-anchor="end">.5</text>
<text transform="translate(0 186.7) scale(1 1.045)" x="152.3" y="0" text-anchor="end">2</text>
<text transform="translate(0 114.7) scale(1 1.045)" x="152.3" y="0" text-anchor="end">2.5</text>
<text transform="translate(0 42.7) scale(1 1.045)" x="152.3" y="0" text-anchor="end">3</text>
<text transform="translate(0 501.9) scale(1 1.045)" x="172.5" y="0" text-anchor="middle">0</text>
<text transform="translate(0 501.9) scale(1 1.045)" x="327.5" y="0" text-anchor="middle">0.5</text>
<path transform="translate(474.72 501.90)" d="M9.77 0 V-19.85 H7.87 C7.4 -17.8 6.2 -16.1 4.2 -15.9 H2.83 V-13.85 H7.07 V0 Z" fill="#000"/>
<path transform="translate(618.04 501.90)" d="M9.77 0 V-19.85 H7.87 C7.4 -17.8 6.2 -16.1 4.2 -15.9 H2.83 V-13.85 H7.07 V0 Z" fill="#000"/>
<text transform="translate(0 501.9) scale(1 1.045)" x="633.61" y="0">.5</text>
<text transform="translate(0 501.9) scale(1 1.045)" x="792.5" y="0" text-anchor="middle">2</text>
<text transform="translate(0 545.6) scale(1 1.045)" y="0"><tspan x="411.3">Q</tspan><tspan class="s" x="432.6" dy="-13.01">2</tspan><tspan x="453.2" dy="13.01">(</tspan><tspan x="460.8">GeV</tspan><tspan class="s" x="516.0" dy="-13.01">2</tspan><tspan x="536.8" dy="13.01">)</tspan></text>
<text transform="translate(67.9 404.5) rotate(-90) scale(1 1.045)" y="0"><tspan x="0.2">dσ/dQ</tspan><tspan class="s" x="76.9" dy="-13.01">2</tspan><tspan x="97.3" dy="13.01">(</tspan><tspan x="122.19">0</tspan><tspan class="s" x="136.5" dy="-13.01">-38</tspan><tspan x="177.1" dy="13.01">cm</tspan><tspan class="s" x="213.5" dy="-13.01">2</tspan><tspan x="225.9" dy="13.01">/GeV</tspan><tspan class="s" x="289.6" dy="-13.01">2</tspan><tspan x="301.7" dy="13.01">)</tspan></text>
<g transform="translate(67.9 404.5) rotate(-90)"><path transform="translate(106.62 0)" d="M9.77 0 V-19.85 H7.87 C7.4 -17.8 6.2 -16.1 4.2 -15.9 H2.83 V-13.85 H7.07 V0 Z" fill="#000"/></g>
<text transform="translate(0 82) scale(1 1.045)" y="0"><tspan x="293.6">E</tspan><tspan class="sy" style="font-size:23.6px" x="310.9" dy="8.23">ν</tspan><tspan x="338.9" dy="-8.23">4</tspan><tspan x="361.6">Ge</tspan><tspan x="398.2">V</tspan></text>
<path d="M323.8 73.5 H337.5 M323.8 78.5 H337.5" stroke="#000" stroke-width="2" fill="none"/>
<text transform="translate(0 152.9) scale(1 1.045)" y="0"><tspan class="sy" x="355.4">ν</tspan><tspan x="376.4">N</tspan><tspan x="483.2">X</tspan></text>
<text class="sy" transform="translate(446.1 152.9) scale(1.18 1.045)" x="0" y="0">μ</text>
<path d="M413.8 146.1 H438.2 M431.2 139.2 L438.4 146.1 L431.2 153" fill="none" stroke="#000" stroke-width="1.5" stroke-linejoin="miter"/>
<path d="M463.4 133.1 H474.7" fill="none" stroke="#000" stroke-width="1.6"/>
<text transform="translate(0 68.6) scale(1 1.045)" x="665.5" y="0" text-anchor="end">sum</text>
<text transform="translate(0 107.5) scale(1 1.045)" x="665.5" y="0" text-anchor="end">QE</text>
<text transform="translate(0 146.4) scale(1 1.045)" x="665.5" y="0" class="sy" text-anchor="end">Δ</text>
<text transform="translate(0 185.3) scale(1 1.045)" x="665.5" y="0" text-anchor="end">highRES</text>
<text transform="translate(0 224.2) scale(1 1.045)" x="665.5" y="0" text-anchor="end">bgr</text>
<text transform="translate(0 263.1) scale(1 1.045)" x="665.5" y="0" text-anchor="end">DIS</text>
</svg></body></html>
